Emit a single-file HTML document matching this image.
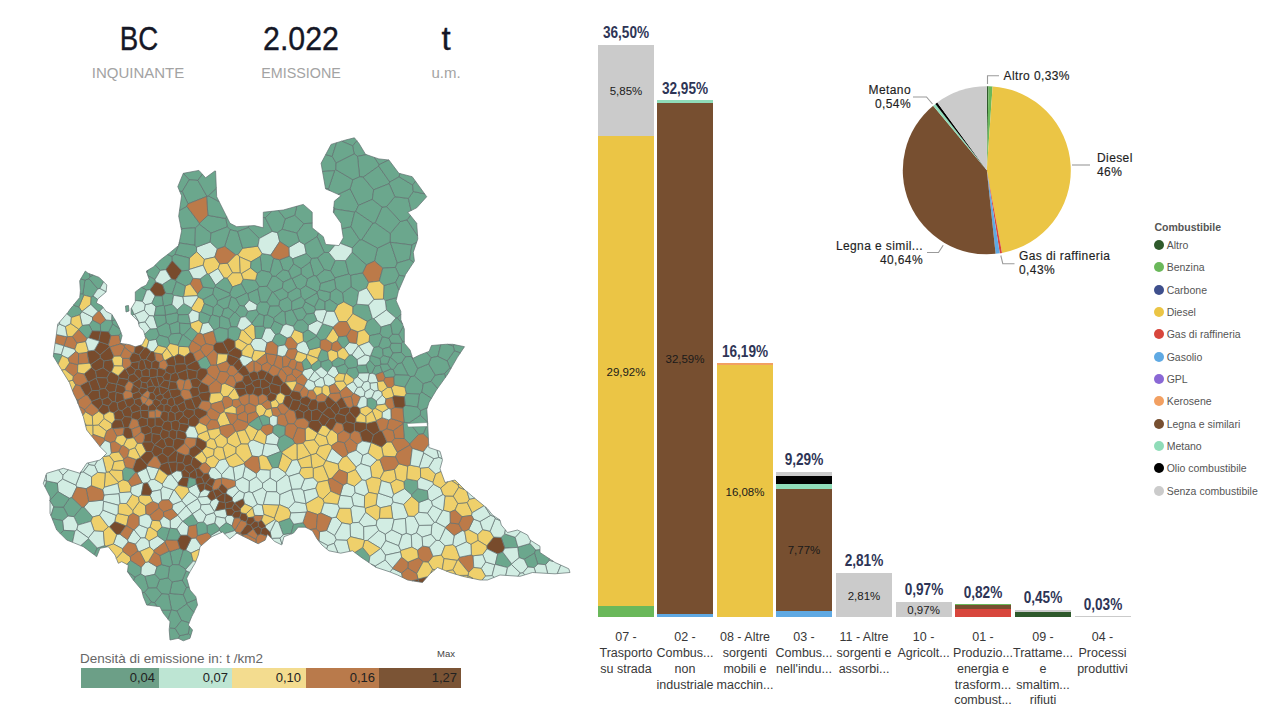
<!DOCTYPE html>
<html><head><meta charset="utf-8">
<style>
html,body{margin:0;padding:0;background:#fff;width:1280px;height:720px;overflow:hidden;font-family:"Liberation Sans",sans-serif;}
.abs{position:absolute;}
.kv{position:absolute;top:22px;width:160px;text-align:center;font-size:33px;color:#151726;line-height:34px;-webkit-text-stroke:0.35px #151726;}
.kl{position:absolute;top:64px;width:160px;text-align:center;font-size:15px;color:#a3a3a3;line-height:18px;}
.bar{position:absolute;width:56px;}
.tot{position:absolute;width:80px;text-align:center;font-size:16px;font-weight:bold;color:#2e3556;line-height:16px;transform:scaleX(0.85);}
.inl{position:absolute;width:56px;text-align:center;font-size:11.5px;color:#1a1a1a;line-height:14px;}
.xl{position:absolute;width:76px;text-align:center;font-size:12.5px;color:#383838;line-height:15.8px;top:630.2px;}
.lg{position:absolute;left:1154.3px;font-size:10.5px;color:#555;line-height:14px;}
.lg i{position:absolute;left:0;top:2px;width:10px;height:10px;border-radius:50%;}
.lg span{position:absolute;left:12.4px;top:0;white-space:nowrap;}
.pl{position:absolute;font-size:12px;color:#1e1e1e;line-height:14px;font-weight:normal;white-space:nowrap;letter-spacing:0.4px;-webkit-text-stroke:0.15px #1e1e1e;}
</style></head><body>
<!-- KPIs -->
<div class="kv" style="left:58.5px;transform:scaleX(0.84)">BC</div>
<div class="kv" style="left:221px;transform:scaleX(0.92)">2.022</div>
<div class="kv" style="left:366px">t</div>
<div class="kl" style="left:58px">INQUINANTE</div>
<div class="kl" style="left:220.5px;transform:scaleX(0.955)">EMISSIONE</div>
<div class="kl" style="left:366px">u.m.</div>

<!-- MAP -->
<svg class="abs" style="left:0;top:0" width="600" height="650" viewBox="0 0 600 650" id="map">
<style>#map polygon{stroke:#617070;stroke-width:0.7;stroke-linejoin:round}#map .G{fill:#6ba78d}#map .L{fill:#d2ede3}#map .Y{fill:#efd06b}#map .O{fill:#bc7a49}#map .B{fill:#784b2c}</style>
<polygon class="O" points="288.2,423.8 284.8,414.2 281.0,413.9 277.4,416.4 277.1,424.5 285.2,426.5"/>
<polygon class="Y" points="314.3,439.9 317.7,433.4 317.6,432.8 308.1,426.7 305.1,429.0 305.3,440.9"/>
<polygon class="B" points="132.4,397.5 134.3,399.7 140.4,398.0 142.1,395.6 142.1,395.4 139.0,391.4 132.5,393.8"/>
<polygon class="L" points="367.4,540.4 380.7,548.5 380.9,548.5 385.8,540.7 385.3,534.1 378.7,530.4"/>
<polygon class="G" points="97.8,288.8 89.0,278.6 84.9,280.1 82.8,294.1 83.8,295.1 91.2,297.0 93.0,296.1"/>
<polygon class="G" points="94.4,554.6 97.3,548.0 88.5,538.7 80.7,545.6 83.3,546.7 93.8,554.5"/>
<polygon class="Y" points="387.0,441.9 381.6,447.1 383.3,456.2 395.4,456.9 397.4,452.4 391.5,441.9"/>
<polygon class="G" points="334.6,170.6 335.8,169.6 336.1,162.9 332.2,156.4 325.7,154.6 321.1,163.3 322.5,171.5"/>
<polygon class="Y" points="310.7,455.2 311.9,467.1 313.3,468.4 323.3,465.5 325.8,460.6 325.8,460.6 316.1,453.3 310.8,454.9"/>
<polygon class="Y" points="299.1,473.2 304.5,479.0 313.4,477.8 313.3,468.4 311.9,467.1 301.2,467.8"/>
<polygon class="G" points="288.6,271.0 282.9,269.6 275.5,276.1 283.3,282.2 291.5,278.3"/>
<polygon class="L" points="196.6,251.7 204.3,259.4 214.8,257.0 217.4,248.8 210.2,242.0 196.5,247.1"/>
<polygon class="G" points="202.4,174.2 198.9,170.4 183.4,173.3 189.2,179.9 197.9,180.4"/>
<polygon class="G" points="453.3,346.1 454.3,344.6 452.7,344.3 447.7,344.3"/>
<polygon class="L" points="547.6,573.4 555.0,573.8 557.4,573.6 560.8,565.1 555.0,562.5 553.4,561.4 549.2,560.3 545.5,564.7"/>
<polygon class="Y" points="90.8,304.4 91.2,297.0 83.8,295.1 78.8,307.0 81.8,311.5 81.9,311.5"/>
<polygon class="G" points="331.6,362.0 332.5,365.9 336.1,367.3 344.9,364.0 344.9,360.1 338.2,357.3"/>
<polygon class="Y" points="139.3,501.5 132.7,510.6 132.9,513.0 139.2,516.5 146.0,514.1 145.5,505.5"/>
<polygon class="Y" points="109.4,455.6 103.5,456.5 102.6,457.4 106.3,472.4 109.0,472.0 111.8,469.8 114.1,461.7"/>
<polygon class="B" points="108.4,344.7 99.2,341.7 94.3,350.2 100.0,355.1 109.7,346.8"/>
<polygon class="G" points="146.9,272.6 147.9,275.7 155.0,279.6 160.3,270.4 155.3,265.0 153.3,266.9 147.7,270.3"/>
<polygon class="G" points="156.2,339.4 159.3,335.2 156.9,328.5 150.1,328.9 144.6,334.3 145.3,336.6 148.7,340.8"/>
<polygon class="Y" points="93.1,434.4 93.0,425.4 92.8,425.2 86.6,425.2 85.7,426.1 86.7,430.0 91.6,436.1"/>
<polygon class="B" points="166.4,446.3 172.9,447.1 174.0,439.9 168.9,436.7 163.8,439.3"/>
<polygon class="B" points="232.9,365.5 238.1,371.3 243.0,365.7 239.3,358.7 239.2,358.7"/>
<polygon class="G" points="524.2,559.4 534.5,553.1 535.7,550.0 530.1,543.5 517.9,547.1 517.7,547.4 519.0,557.6"/>
<polygon class="G" points="180.8,226.6 181.5,230.2 182.2,228.6"/>
<polygon class="L" points="162.9,486.4 160.6,489.8 161.7,500.1 168.9,499.8 173.7,490.0"/>
<polygon class="G" points="183.3,550.3 179.9,548.4 169.9,551.6 172.5,564.6 179.0,564.8"/>
<polygon class="G" points="368.7,282.4 362.6,272.8 350.6,275.1 351.0,286.9 358.7,291.6 366.6,288.0"/>
<polygon class="Y" points="138.5,497.0 132.1,494.3 126.4,503.5 132.7,510.6 139.3,501.5"/>
<polygon class="L" points="139.4,322.8 134.7,314.3 134.0,314.1 132.2,315.3 138.1,321.1 138.8,324.1"/>
<polygon class="G" points="358.5,205.4 350.1,188.7 338.0,194.3 341.1,195.6 334.4,201.1 333.8,207.3 334.8,209.0 354.7,212.1 355.7,211.5"/>
<polygon class="G" points="418.7,434.4 409.3,422.7 404.0,422.3 403.7,422.5 403.2,423.6 404.2,438.5 409.7,444.0"/>
<polygon class="L" points="294.9,501.7 288.4,508.4 290.8,513.0 306.2,512.2 307.4,511.1 305.9,503.7"/>
<polygon class="O" points="85.5,411.8 85.0,409.7 79.1,406.1 82.9,415.6"/>
<polygon class="L" points="431.5,501.2 443.0,494.5 440.7,488.1 433.4,484.2 427.4,490.7 428.1,499.0"/>
<polygon class="O" points="221.5,483.6 227.8,489.5 235.6,485.9 235.5,480.9 234.9,480.4 221.8,477.5 221.2,478.3"/>
<polygon class="L" points="517.9,576.2 520.0,576.3 524.7,574.9 523.1,572.7 520.1,572.9"/>
<polygon class="O" points="260.7,533.8 257.5,535.4 255.9,539.1 256.1,542.8 258.1,543.8 265.1,540.2 266.8,536.1"/>
<polygon class="G" points="380.1,333.5 381.2,327.0 373.9,318.6 372.4,318.4 367.2,321.4 364.4,329.7 369.6,335.7"/>
<polygon class="O" points="349.7,438.2 344.3,442.8 347.9,453.5 356.2,450.3 357.5,444.3"/>
<polygon class="G" points="428.4,438.6 427.7,423.7 423.2,433.9"/>
<polygon class="G" points="73.9,516.6 77.9,525.1 90.9,521.3 92.7,517.0 84.0,507.1 81.7,507.2"/>
<polygon class="L" points="304.6,244.5 299.3,241.4 288.8,247.4 289.2,256.2 292.7,258.8 306.3,253.6"/>
<polygon class="G" points="419.6,394.1 421.9,392.2 423.3,383.7 414.4,375.9 410.6,376.6 404.8,387.0 406.2,393.5"/>
<polygon class="B" points="196.1,484.2 196.9,484.6 204.2,482.9 201.5,477.0 197.2,477.1 195.5,478.9"/>
<polygon class="L" points="208.2,473.2 210.3,477.9 215.1,479.6 221.2,478.3 221.8,477.5 221.6,474.5 214.9,467.4 210.9,467.8"/>
<polygon class="B" points="146.0,359.3 151.1,351.5 146.8,347.4 144.5,347.8 139.1,354.7 141.3,359.6 143.6,360.1"/>
<polygon class="G" points="351.0,286.9 342.5,292.9 343.6,301.8 353.0,306.9 356.7,304.2 358.7,291.6"/>
<polygon class="B" points="105.0,388.3 109.1,392.4 115.5,391.6 116.7,384.2 108.2,382.4"/>
<polygon class="L" points="485.6,562.0 481.2,568.4 485.6,576.1 492.1,575.6 494.9,564.7"/>
<polygon class="G" points="182.2,228.6 195.4,227.8 199.4,224.3 199.5,223.2 186.8,206.3 179.5,210.4 178.7,216.2 180.8,226.6"/>
<polygon class="L" points="153.7,351.8 158.1,345.5 156.2,339.4 148.7,340.8 146.8,347.4 151.1,351.5"/>
<polygon class="L" points="377.3,382.4 369.9,383.0 370.3,388.6 374.6,391.3 378.4,390.4"/>
<polygon class="O" points="211.0,537.1 210.8,535.4 207.4,532.6 197.4,535.6 195.6,538.0 201.1,545.8 210.8,537.4"/>
<polygon class="G" points="380.1,358.5 370.7,355.4 369.9,356.0 369.6,360.3 375.1,366.2 380.2,365.3 380.9,364.0"/>
<polygon class="Y" points="380.1,478.6 384.0,471.1 379.9,459.7 376.9,460.0 370.2,466.6 371.7,477.1"/>
<polygon class="G" points="407.0,219.8 400.3,221.5 390.3,233.4 390.1,242.0 390.4,242.3 411.9,245.0 416.7,242.2 417.8,238.9 417.6,235.9"/>
<polygon class="G" points="296.8,233.1 303.9,223.7 294.7,215.2 285.2,218.8 282.1,229.3"/>
<polygon class="G" points="407.0,219.8 417.6,235.9 416.7,223.3 410.4,215.4"/>
<polygon class="G" points="192.0,309.9 191.4,307.8 183.9,303.4 177.2,309.8 177.0,312.7 178.4,314.9 188.5,314.5"/>
<polygon class="G" points="404.4,396.8 405.1,405.4 417.8,407.1 419.6,394.1 406.2,393.5"/>
<polygon class="L" points="365.6,512.2 358.8,522.4 363.6,526.7 376.2,525.3 376.9,520.7"/>
<polygon class="O" points="255.9,539.1 247.0,534.4 242.5,534.9 242.7,536.1 248.6,539.0 256.1,542.8"/>
<polygon class="B" points="114.0,365.9 112.1,359.6 103.9,360.9 103.1,367.8 109.8,372.5 111.6,371.8"/>
<polygon class="O" points="247.5,422.4 237.4,418.9 232.5,424.6 235.5,431.3 236.5,431.7 245.0,429.8 248.6,424.9 248.5,423.9"/>
<polygon class="G" points="517.7,547.4 517.9,547.1 515.2,537.3 504.7,533.9 501.1,537.4 504.8,548.2"/>
<polygon class="O" points="433.1,556.4 429.4,547.1 422.7,546.0 417.4,550.1 418.4,557.8 423.2,561.8 428.2,562.2"/>
<polygon class="L" points="378.6,493.2 377.3,494.1 376.1,504.8 380.3,507.8 391.0,505.5 393.2,502.1 392.1,497.7"/>
<polygon class="G" points="148.3,587.8 144.4,592.4 151.5,602.2 154.6,602.6 161.8,593.9 156.6,587.7"/>
<polygon class="L" points="336.3,539.7 334.7,535.5 326.6,530.5 319.6,531.7 318.9,540.8 327.9,545.6 334.1,543.3"/>
<polygon class="O" points="87.2,352.3 78.6,353.4 78.3,364.2 89.2,363.2"/>
<polygon class="L" points="326.6,530.5 334.7,535.5 342.0,522.9 336.1,517.1 331.7,517.9"/>
<polygon class="L" points="210.8,535.4 211.0,537.1 211.1,537.2 211.7,536.7 221.7,532.4 219.3,530.3"/>
<polygon class="Y" points="322.9,499.1 318.4,496.4 306.1,503.3 305.9,503.7 307.4,511.1 317.6,514.5 320.9,513.0 324.2,502.7"/>
<polygon class="B" points="152.8,400.8 152.8,403.6 156.4,407.6 161.0,403.7 160.5,401.3 155.5,398.8"/>
<polygon class="L" points="186.2,505.9 192.4,513.9 200.4,508.7 201.0,504.8 197.7,498.6 186.2,505.9"/>
<polygon class="L" points="385.1,404.1 386.0,399.0 382.2,395.2 376.3,400.9 376.9,405.2"/>
<polygon class="L" points="214.0,330.1 208.6,322.4 202.5,323.4 199.7,333.0 202.9,334.5 213.6,330.9"/>
<polygon class="L" points="145.0,576.4 154.8,574.4 157.0,566.8 148.3,561.7 145.5,562.4 141.2,567.2 140.7,573.9"/>
<polygon class="G" points="352.2,247.9 359.8,239.9 351.0,226.6 341.9,228.7 343.3,237.8 340.2,243.3"/>
<polygon class="Y" points="328.3,396.6 330.4,393.5 329.0,386.2 324.8,384.8 321.9,387.3 321.9,393.0 327.5,396.8"/>
<polygon class="G" points="352.6,145.8 354.1,153.8 357.5,156.4 366.3,154.6 365.6,154.4 358.9,143.3 356.8,140.7"/>
<polygon class="Y" points="346.6,385.3 343.6,380.9 335.4,381.3 334.6,383.6 340.1,391.5 346.3,386.6"/>
<polygon class="O" points="319.8,347.2 321.3,349.5 327.6,351.9 331.2,349.7 332.4,343.2 325.9,338.9 320.3,340.2"/>
<polygon class="B" points="185.0,380.7 188.2,379.0 186.7,369.6 177.2,373.3 179.2,378.9"/>
<polygon class="B" points="109.7,346.8 100.0,355.1 100.3,358.0 103.9,360.9 112.1,359.6 114.0,356.3 109.9,347.0"/>
<polygon class="G" points="301.4,296.8 300.3,289.3 296.6,287.9 287.9,292.8 287.6,297.1 291.7,301.7"/>
<polygon class="Y" points="137.3,443.3 135.0,447.7 140.2,457.5 146.2,451.5 142.0,443.2"/>
<polygon class="Y" points="235.9,453.1 236.2,447.4 227.4,443.0 222.8,447.5 225.5,458.7"/>
<polygon class="L" points="103.6,501.3 103.0,500.1 88.7,501.6 84.0,507.1 92.7,517.0 99.6,515.2 103.0,510.1"/>
<polygon class="B" points="109.1,392.4 105.0,388.3 100.4,389.0 98.9,390.4 100.0,398.2 102.0,399.7 108.0,397.3"/>
<polygon class="G" points="317.6,358.3 318.2,360.2 321.0,362.2 328.7,359.7 327.6,351.9 321.3,349.5"/>
<polygon class="Y" points="241.8,351.0 247.8,344.5 238.5,339.0 234.8,341.0 235.0,347.4"/>
<polygon class="G" points="334.8,209.0 333.8,207.3 333.3,212.2 333.7,212.8"/>
<polygon class="B" points="151.6,451.5 146.2,451.5 140.2,457.5 140.2,457.5 147.1,464.9 154.3,456.1"/>
<polygon class="L" points="441.4,555.1 445.0,545.7 439.6,540.6 436.1,540.2 429.4,547.1 433.1,556.4"/>
<polygon class="O" points="161.7,500.1 158.3,503.7 158.9,507.8 163.5,512.0 172.2,508.9 173.0,504.5 168.9,499.8"/>
<polygon class="G" points="183.4,173.3 183.3,173.3 177.8,186.7 179.7,191.2 182.2,191.5 189.2,179.9"/>
<polygon class="L" points="249.3,481.0 248.9,491.7 252.2,492.7 262.5,487.8 262.6,483.2 256.4,476.7"/>
<polygon class="O" points="316.3,528.8 317.6,514.5 307.4,511.1 306.2,512.2 302.8,522.7 306.3,527.7 310.1,529.6"/>
<polygon class="L" points="315.7,488.3 317.9,482.3 313.4,477.8 304.5,479.0 300.8,488.7 303.7,490.9"/>
<polygon class="O" points="336.3,402.3 341.4,397.5 339.8,392.6 330.4,393.5 328.3,396.6 335.6,402.4"/>
<polygon class="G" points="293.7,524.2 289.8,518.1 278.6,522.1 283.2,534.7 291.1,533.4"/>
<polygon class="O" points="206.7,369.3 207.7,373.8 215.6,380.0 216.4,380.0 220.1,371.3 216.7,365.0 216.4,364.8 210.9,365.2"/>
<polygon class="Y" points="309.5,349.8 307.4,354.6 317.6,358.3 321.3,349.5 319.8,347.2"/>
<polygon class="O" points="418.4,557.8 408.0,562.1 407.8,568.2 416.7,573.7 423.2,561.8"/>
<polygon class="B" points="138.6,369.0 139.2,361.6 131.4,362.6 130.4,365.7 135.5,370.0"/>
<polygon class="G" points="382.5,336.7 380.1,333.5 369.6,335.7 369.0,341.8 373.8,347.6 378.7,346.6"/>
<polygon class="L" points="360.6,397.0 364.3,396.2 365.1,391.7 361.3,386.8 357.4,387.4 353.9,393.3"/>
<polygon class="G" points="168.6,594.4 171.5,610.0 176.9,611.0 186.6,604.0 186.9,603.0 183.4,594.7 169.7,593.4"/>
<polygon class="L" points="435.8,522.1 434.2,522.4 431.8,525.0 431.1,534.4 436.1,540.2 439.6,540.6 445.5,527.9 445.4,527.3"/>
<polygon class="L" points="414.3,516.3 408.2,516.1 405.4,518.4 406.2,533.3 411.3,535.0 416.5,532.9 419.1,525.4"/>
<polygon class="G" points="171.2,610.2 161.7,610.2 163.3,613.3 168.1,619.3"/>
<polygon class="G" points="385.3,300.6 386.4,309.9 396.0,318.1 397.3,318.0 400.8,314.4 400.8,311.3 396.1,300.7 396.9,297.5"/>
<polygon class="O" points="403.7,422.5 391.1,418.5 388.8,419.9 386.6,428.8 393.2,430.8 403.2,423.6"/>
<polygon class="G" points="325.9,338.9 333.2,327.9 333.1,327.0 322.7,323.7 316.4,335.3 316.7,336.5 320.3,340.2"/>
<polygon class="G" points="179.9,333.1 171.2,333.8 168.1,337.6 169.7,343.5 178.0,345.4 182.4,335.0"/>
<polygon class="B" points="124.6,368.7 118.2,375.7 119.1,378.1 128.0,379.5 129.2,375.5 125.5,368.9"/>
<polygon class="O" points="132.9,383.1 128.6,380.9 124.6,386.8 125.5,390.5 130.8,391.5 133.4,384.9"/>
<polygon class="G" points="357.5,156.4 359.6,176.7 363.2,177.2 378.7,166.1 379.1,164.6 374.4,157.4 366.3,154.6"/>
<polygon class="Y" points="328.5,444.2 326.4,436.8 317.7,433.4 314.3,439.9 319.4,446.4"/>
<polygon class="Y" points="232.4,286.9 241.3,283.8 243.3,279.2 241.3,273.5 240.3,272.7 232.4,272.7 227.1,278.2"/>
<polygon class="Y" points="114.7,521.6 126.0,526.0 126.7,525.8 128.8,515.8 118.0,513.5 116.1,515.3"/>
<polygon class="B" points="270.5,384.0 271.6,383.5 273.5,376.4 268.2,372.1 267.4,372.3 264.0,379.1"/>
<polygon class="G" points="435.3,375.0 428.6,363.9 417.7,368.4 414.4,375.9 423.3,383.7 431.0,381.4"/>
<polygon class="G" points="372.3,199.4 373.7,189.8 363.2,177.2 359.6,176.7 352.8,179.7 350.1,188.7 358.5,205.4"/>
<polygon class="G" points="328.5,188.6 325.5,188.4 325.6,188.9 330.1,190.8"/>
<polygon class="L" points="272.5,467.8 270.1,470.3 270.0,478.0 276.6,481.9 286.4,474.7 285.6,472.7 278.1,467.4"/>
<polygon class="L" points="349.2,342.5 344.3,347.9 349.2,355.1 351.9,355.0 358.5,345.8 356.6,343.5"/>
<polygon class="L" points="347.9,453.5 346.6,455.8 356.1,467.0 360.9,463.7 362.8,455.1 356.2,450.3"/>
<polygon class="G" points="179.7,635.7 175.2,628.5 169.7,627.9 169.3,628.4 169.2,630.0 170.0,640.0 178.3,638.3 178.6,638.5"/>
<polygon class="Y" points="190.3,352.3 188.8,346.8 178.7,346.3 178.4,354.0 184.5,356.8"/>
<polygon class="L" points="86.1,488.7 91.5,485.6 91.6,476.7 83.3,471.9 80.9,472.0 75.8,485.1 76.8,487.1"/>
<polygon class="L" points="331.8,448.2 325.8,460.6 325.8,460.6 338.2,464.1 342.7,457.3"/>
<polygon class="O" points="233.3,376.0 236.2,382.7 242.5,380.8 243.7,376.3 238.1,372.1"/>
<polygon class="L" points="156.1,306.9 151.9,303.2 145.1,304.7 144.3,310.1 149.1,315.7 153.7,316.0 154.5,315.3"/>
<polygon class="Y" points="432.5,569.3 434.9,569.7 437.5,567.5 442.3,569.4 444.0,558.6 441.4,555.1 433.1,556.4 428.2,562.2"/>
<polygon class="G" points="261.6,270.4 270.1,272.4 273.7,258.3 270.8,255.0 262.0,253.5 260.2,256.4"/>
<polygon class="O" points="207.0,411.5 206.8,414.7 210.6,419.5 217.2,420.3 220.4,413.6 210.7,407.7"/>
<polygon class="G" points="267.4,314.7 264.1,315.6 263.2,326.2 265.3,328.2 270.6,328.2 274.3,321.0 273.6,318.0"/>
<polygon class="L" points="146.2,468.1 150.5,479.8 154.6,479.3 159.0,468.8 158.9,468.6 147.3,466.0"/>
<polygon class="B" points="234.6,503.2 234.5,502.7 232.4,500.7 225.2,502.9 225.7,508.7 231.9,508.2"/>
<polygon class="G" points="427.7,423.7 427.6,422.0 420.4,415.1 409.3,422.7 418.7,434.4 423.2,433.9"/>
<polygon class="O" points="213.6,330.9 202.9,334.5 205.7,343.7 213.6,345.5 216.6,342.2"/>
<polygon class="G" points="177.0,312.7 165.4,315.0 165.3,315.1 166.2,323.0 169.4,324.7 178.0,321.5 178.4,314.9"/>
<polygon class="G" points="237.1,326.8 240.6,317.4 235.4,312.4 234.2,312.4 228.9,318.8 230.9,326.9"/>
<polygon class="Y" points="254.8,326.4 251.8,323.9 243.3,330.1 252.6,340.0 255.5,338.4"/>
<polygon class="B" points="139.2,426.3 140.6,427.3 147.5,425.5 147.3,418.8 141.3,417.2 137.7,420.2"/>
<polygon class="O" points="128.8,515.8 126.7,525.8 133.2,529.9 134.2,529.9 139.3,525.0 139.2,516.5 132.9,513.0"/>
<polygon class="B" points="336.5,422.4 334.4,418.1 329.8,418.6 324.9,425.5 330.5,430.2 332.3,429.9"/>
<polygon class="G" points="382.8,268.2 395.4,267.4 397.3,263.0 390.4,242.3 390.1,242.0 377.5,248.1 374.5,261.0"/>
<polygon class="Y" points="159.9,520.8 152.1,520.3 150.0,527.1 157.1,531.8 162.0,526.9"/>
<polygon class="L" points="247.8,311.4 256.6,309.9 257.3,304.8 249.2,300.1 244.2,305.9"/>
<polygon class="B" points="297.9,409.6 303.8,412.6 308.9,409.3 307.8,406.2 300.7,403.2"/>
<polygon class="B" points="502.7,552.0 504.8,548.2 501.1,537.4 493.7,537.1 486.7,545.8 486.9,548.8 497.7,554.1"/>
<polygon class="G" points="265.3,217.9 271.8,211.3 263.3,212.2 263.3,217.5"/>
<polygon class="G" points="249.0,225.9 236.7,226.7 230.0,223.3 226.6,216.5 225.7,218.5 227.3,226.8 230.0,229.7 237.7,231.5 248.3,227.6"/>
<polygon class="G" points="188.3,633.8 190.7,635.9 192.5,630.0 189.4,626.3"/>
<polygon class="L" points="94.6,465.4 97.6,472.4 105.2,473.2 106.3,472.4 102.6,457.4 100.0,460.0 97.3,460.7"/>
<polygon class="O" points="69.6,362.6 64.9,369.5 73.4,376.5 77.5,372.8 77.8,364.7"/>
<polygon class="G" points="183.4,594.7 186.5,587.5 182.3,580.1 172.1,581.9 169.7,593.4"/>
<polygon class="O" points="327.5,396.8 321.9,393.0 316.7,395.8 315.6,399.5 317.9,402.2 324.7,401.6"/>
<polygon class="G" points="188.3,633.8 179.7,635.7 178.6,638.5 183.3,640.8 190.0,638.3 190.7,635.9"/>
<polygon class="O" points="235.6,534.1 236.8,533.1 242.7,536.1 242.5,534.9 240.3,533.1 236.5,532.2"/>
<polygon class="O" points="412.3,448.4 423.3,451.9 428.7,444.6 428.4,438.6 423.2,433.9 418.7,434.4 409.7,444.0 409.7,445.1"/>
<polygon class="Y" points="219.8,263.8 214.8,257.0 204.3,259.4 203.1,265.2 207.0,273.7 208.7,274.2 218.2,268.5"/>
<polygon class="B" points="182.9,412.2 186.5,408.7 184.3,401.5 177.1,405.4 179.5,411.1"/>
<polygon class="B" points="120.0,534.2 126.0,526.0 114.7,521.6 109.3,526.8 116.6,534.7"/>
<polygon class="G" points="84.9,280.1 89.0,278.6 90.1,276.5 89.3,273.7 88.0,273.2 85.3,271.1 80.7,279.1"/>
<polygon class="O" points="295.1,368.6 292.8,369.6 291.7,373.8 296.4,378.4 302.4,373.8 302.4,372.1"/>
<polygon class="G" points="453.3,346.1 454.3,350.8 460.3,352.9 464.5,346.7 454.3,344.6"/>
<polygon class="B" points="327.7,407.8 330.2,407.9 335.6,402.4 328.3,396.6 327.5,396.8 324.7,401.6"/>
<polygon class="Y" points="130.6,560.4 130.3,556.9 122.8,551.3 116.3,558.3 118.3,563.3 121.7,561.7 127.0,564.4"/>
<polygon class="G" points="203.0,299.6 212.9,294.3 213.8,288.3 203.0,287.1 197.4,293.9 197.3,295.7 198.1,297.1"/>
<polygon class="L" points="291.6,489.5 279.8,494.5 279.4,504.6 288.4,508.4 294.9,501.7"/>
<polygon class="B" points="100.6,331.0 92.1,330.7 88.5,337.8 98.8,341.0 100.8,331.3"/>
<polygon class="O" points="244.8,405.4 241.4,404.3 236.1,407.9 236.3,413.9 237.3,415.2 244.8,411.5"/>
<polygon class="Y" points="199.2,312.7 201.2,311.7 204.4,303.7 203.0,299.6 198.1,297.1 191.4,307.8 192.0,309.9"/>
<polygon class="L" points="256.5,473.6 245.2,466.1 242.6,477.4 249.3,481.0 256.4,476.7"/>
<polygon class="L" points="393.5,494.5 392.1,497.7 393.2,502.1 403.7,504.5 411.8,496.3 411.7,494.8 404.5,488.6"/>
<polygon class="Y" points="452.7,544.6 445.0,545.7 441.4,555.1 444.0,558.6 457.2,560.4 458.3,559.8 459.6,557.2 455.8,546.8"/>
<polygon class="L" points="219.3,460.2 214.9,467.4 221.6,474.5 229.5,466.1 225.5,458.7"/>
<polygon class="G" points="92.1,330.7 100.6,331.0 100.4,324.2 92.6,320.1 89.1,324.8"/>
<polygon class="O" points="318.9,540.8 319.6,531.7 316.3,528.8 310.1,529.6 312.4,530.8 317.1,539.0 318.7,541.0"/>
<polygon class="Y" points="221.5,384.3 220.4,392.8 223.4,396.8 228.0,396.3 234.4,388.3 234.2,387.7 224.8,383.3"/>
<polygon class="L" points="118.3,505.2 120.2,503.4 119.1,493.6 104.1,494.9 103.0,500.1 103.6,501.3"/>
<polygon class="G" points="377.5,248.1 390.1,242.0 390.3,233.4 375.2,222.7 372.8,223.1 361.7,239.7"/>
<polygon class="L" points="346.9,483.2 343.1,485.0 340.1,495.3 340.1,495.3 351.6,496.8 355.1,492.6 354.5,486.3"/>
<polygon class="O" points="229.8,365.3 226.7,371.8 229.6,375.7 233.3,376.0 238.1,372.1 238.1,371.3 232.9,365.5"/>
<polygon class="G" points="345.5,260.6 335.2,260.4 330.5,270.8 334.9,277.9 348.8,274.0"/>
<polygon class="G" points="106.3,546.1 104.6,545.6 97.3,548.0 94.4,554.6 94.5,555.1 96.7,556.7 100.0,548.3 106.7,547.0"/>
<polygon class="B" points="167.9,420.8 164.4,421.7 161.7,426.7 162.5,429.2 169.1,431.6 172.1,429.5 171.0,422.0"/>
<polygon class="G" points="385.3,300.6 396.9,297.5 398.4,291.2 398.9,290.0 395.7,282.2 383.9,285.5 383.4,299.0"/>
<polygon class="L" points="391.0,505.5 392.7,518.3 394.1,519.7 405.4,518.4 408.2,516.1 403.7,504.5 393.2,502.1"/>
<polygon class="Y" points="247.9,444.1 250.4,440.9 245.0,429.8 236.5,431.7 241.0,444.0"/>
<polygon class="B" points="149.5,376.6 149.3,369.4 146.2,368.4 141.5,370.7 142.0,376.3"/>
<polygon class="G" points="112.6,323.9 108.6,331.9 110.8,335.7 119.2,335.3 121.0,332.8 119.5,328.6"/>
<polygon class="G" points="316.5,276.2 324.4,269.9 317.6,257.6 311.4,258.4 310.0,262.2 313.8,275.5"/>
<polygon class="G" points="379.1,164.6 388.8,160.0 378.9,158.9 374.4,157.4"/>
<polygon class="G" points="400.3,221.5 407.0,219.8 410.4,215.4 407.8,212.2 411.1,210.6 408.4,198.4 394.8,196.7 386.5,206.6"/>
<polygon class="O" points="288.2,349.3 296.0,348.6 297.6,344.0 290.8,336.6 286.9,338.0 284.7,344.7"/>
<polygon class="Y" points="368.7,492.4 377.3,494.1 378.6,493.2 381.4,480.7 380.1,478.6 371.7,477.1 365.6,480.3"/>
<polygon class="L" points="450.3,523.0 450.2,512.0 443.4,510.1 442.5,510.5 435.8,522.1 445.4,527.3"/>
<polygon class="Y" points="252.8,360.6 253.8,361.3 256.1,361.3 265.9,353.4 265.9,353.3 265.1,351.4 254.1,350.2 251.6,358.1"/>
<polygon class="G" points="302.8,332.8 303.4,341.3 306.3,342.5 316.7,336.5 316.4,335.3 308.0,329.6"/>
<polygon class="L" points="57.4,483.1 58.0,491.7 69.3,498.3 71.8,497.6 76.8,487.1 75.8,485.1 62.6,478.9"/>
<polygon class="L" points="401.7,573.0 392.6,568.6 390.0,571.9 390.0,572.0 390.3,572.1 397.5,575.0 402.4,577.4"/>
<polygon class="O" points="163.5,512.0 158.9,507.8 149.5,515.4 152.1,520.3 159.9,520.8 163.8,516.2"/>
<polygon class="B" points="102.7,404.1 98.4,409.7 98.6,411.3 103.7,414.9 109.5,411.6 108.5,406.0"/>
<polygon class="G" points="172.3,293.9 176.4,281.7 175.7,280.1 171.2,278.8 162.3,284.5 165.5,293.3"/>
<polygon class="G" points="259.0,313.8 256.6,309.9 247.8,311.4 245.3,316.6 251.8,323.4"/>
<polygon class="B" points="209.2,391.8 208.8,385.8 201.4,382.1 198.1,387.7 199.6,393.2"/>
<polygon class="G" points="186.9,603.0 186.6,604.0 193.8,612.5 195.0,610.0 197.5,605.0 196.3,599.2"/>
<polygon class="G" points="144.4,592.4 148.3,587.8 145.0,576.4 140.7,573.9 135.0,577.0 133.5,580.3 141.7,590.0 142.3,592.7"/>
<polygon class="G" points="413.3,191.5 408.4,198.4 411.1,210.6 416.7,207.8 426.7,196.7 424.6,193.8"/>
<polygon class="B" points="162.3,284.5 155.6,281.7 149.8,289.7 155.1,296.1 162.2,296.3 165.5,293.3"/>
<polygon class="L" points="402.2,534.8 391.8,529.8 385.3,534.1 385.8,540.7 398.7,545.8"/>
<polygon class="L" points="245.2,466.1 244.2,463.5 233.0,467.3 234.9,480.4 235.5,480.9 242.6,477.4"/>
<polygon class="B" points="185.3,466.1 190.9,464.3 192.8,457.4 189.0,454.3 185.0,455.2 182.6,462.8"/>
<polygon class="Y" points="277.4,407.4 279.3,404.0 275.7,399.3 270.4,401.7 271.4,408.0"/>
<polygon class="O" points="179.9,548.4 177.5,540.2 166.6,539.8 164.9,541.0 164.8,541.9 169.0,551.1 169.9,551.6"/>
<polygon class="B" points="194.2,410.1 186.5,408.7 182.9,412.2 183.4,415.2 188.6,419.1 194.4,414.5"/>
<polygon class="G" points="366.3,264.9 374.5,261.0 377.5,248.1 361.7,239.7 359.8,239.9 352.2,247.9 352.1,252.2"/>
<polygon class="L" points="278.6,522.1 275.7,520.5 270.1,531.9 271.3,537.8 271.7,538.4 280.1,538.2 283.2,534.7"/>
<polygon class="L" points="454.2,535.5 452.7,544.6 455.8,546.8 466.5,541.9 464.7,531.3 462.3,530.5"/>
<polygon class="B" points="169.9,381.6 169.6,381.1 164.3,379.9 159.3,386.2 168.4,388.9"/>
<polygon class="B" points="161.7,426.7 155.1,425.7 151.1,428.2 151.2,432.5 152.2,433.7 160.0,434.6 162.5,429.2"/>
<polygon class="L" points="351.6,496.8 353.4,505.7 364.4,507.3 364.6,495.8 355.1,492.6"/>
<polygon class="O" points="277.2,355.1 265.9,353.3 265.9,353.4 267.2,362.1 271.7,365.7 273.8,365.3"/>
<polygon class="B" points="338.0,413.6 345.6,415.9 349.5,411.7 350.0,408.0 347.1,406.8 340.1,408.7"/>
<polygon class="G" points="376.9,405.2 376.3,400.9 371.8,397.6 367.0,398.5 366.9,406.0 372.6,409.8 375.3,408.2"/>
<polygon class="B" points="186.8,437.4 185.6,432.4 178.5,430.1 176.8,431.0 176.5,438.2 184.7,440.0"/>
<polygon class="Y" points="118.5,482.1 117.8,483.5 119.8,492.7 130.6,492.0 131.3,486.5 128.1,481.2 123.0,479.7"/>
<polygon class="Y" points="493.7,537.1 490.1,531.2 482.7,529.6 477.6,534.5 477.9,540.4 486.7,545.8"/>
<polygon class="O" points="77.0,343.0 72.5,336.4 67.2,336.6 67.0,336.8 63.9,345.8 64.0,346.0 74.8,349.4"/>
<polygon class="G" points="230.0,229.7 224.6,246.3 235.6,254.8 238.0,254.7 242.7,248.2 237.7,231.5"/>
<polygon class="Y" points="289.8,518.1 290.8,513.0 288.4,508.4 279.4,504.6 279.0,504.9 274.3,518.1 274.8,519.5 275.7,520.5 278.6,522.1"/>
<polygon class="G" points="247.8,293.7 257.9,289.0 259.4,286.7 255.5,280.2 243.3,279.2 241.3,283.8 246.4,293.1"/>
<polygon class="G" points="165.7,269.7 172.3,260.6 172.2,256.5 167.6,254.5 160.3,260.0 155.3,265.0 160.3,270.4"/>
<polygon class="G" points="235.7,298.4 231.0,296.7 228.0,307.5 234.2,312.4 235.4,312.4 239.8,305.5"/>
<polygon class="O" points="56.4,334.5 56.4,334.6 56.2,335.8 55.1,343.3 63.9,345.8 67.0,336.8"/>
<polygon class="B" points="218.2,488.7 222.8,493.6 225.1,493.8 226.0,493.2 227.8,489.5 221.5,483.6"/>
<polygon class="B" points="137.7,420.2 141.3,417.2 140.5,410.4 140.5,410.3 132.2,412.7 130.9,417.0 132.0,418.5"/>
<polygon class="B" points="156.5,376.8 157.2,376.2 157.4,369.3 151.6,368.1 149.3,369.4 149.5,376.6 150.6,377.9"/>
<polygon class="G" points="206.5,356.5 205.1,356.3 197.5,361.2 200.6,368.1 206.7,369.3 210.9,365.2"/>
<polygon class="G" points="397.3,318.0 402.5,324.2 400.8,319.6 400.8,314.4"/>
<polygon class="Y" points="457.9,503.5 453.3,496.1 445.0,495.9 443.4,510.1 450.2,512.0 455.1,510.0"/>
<polygon class="G" points="214.9,523.0 206.8,525.3 207.4,532.6 210.8,535.4 219.3,530.3 219.4,528.1"/>
<polygon class="Y" points="262.0,253.5 257.9,246.1 242.7,248.2 238.0,254.7 239.5,256.8 251.0,261.8 260.2,256.4"/>
<polygon class="O" points="213.8,349.9 213.6,345.5 205.7,343.7 201.2,346.4 200.4,349.6 205.1,356.3 206.5,356.5"/>
<polygon class="Y" points="435.7,474.0 428.5,467.4 420.4,468.0 420.6,477.4 432.9,482.3"/>
<polygon class="L" points="181.8,499.8 181.8,500.9 186.2,505.9 197.7,498.6 197.7,498.0 189.1,491.6"/>
<polygon class="L" points="337.8,552.6 340.7,553.2 349.9,551.3 347.1,540.1 336.3,539.7 334.1,543.3"/>
<polygon class="L" points="154.6,479.3 150.5,479.8 147.4,482.8 152.0,491.5 160.6,489.8 162.9,486.4 162.2,483.9"/>
<polygon class="G" points="389.8,182.0 378.7,166.1 363.2,177.2 373.7,189.8 389.1,183.7"/>
<polygon class="L" points="267.1,342.9 272.3,341.1 275.6,334.6 270.6,328.2 265.3,328.2 261.5,338.6"/>
<polygon class="Y" points="65.3,326.5 67.2,336.6 72.5,336.4 78.7,329.6 78.8,329.2 70.8,323.5"/>
<polygon class="O" points="215.6,380.0 208.8,385.8 209.2,391.8 210.6,393.4 220.4,392.8 221.5,384.3 216.4,380.0"/>
<polygon class="B" points="252.3,381.4 259.1,378.9 257.4,372.4 254.0,371.1 249.6,373.1 248.6,374.8"/>
<polygon class="G" points="125.3,467.2 122.4,470.5 123.0,479.7 128.1,481.2 135.6,472.5 132.8,468.9"/>
<polygon class="B" points="217.4,353.8 228.0,354.2 228.5,352.4 222.9,342.0 216.6,342.2 213.6,345.5 213.8,349.9"/>
<polygon class="O" points="124.4,427.7 124.1,427.5 112.8,428.5 116.9,436.3 123.0,434.9"/>
<polygon class="Y" points="75.7,384.8 72.9,380.1 68.6,381.2 69.4,382.4 72.5,390.8"/>
<polygon class="G" points="356.5,367.2 348.0,368.3 346.3,373.2 354.1,379.1 357.6,376.8 358.9,373.2"/>
<polygon class="L" points="171.7,473.4 171.2,474.5 177.9,483.1 182.6,477.1 181.6,471.3 176.6,470.7"/>
<polygon class="B" points="139.5,379.1 142.0,376.3 141.5,370.7 138.6,369.0 135.5,370.0 134.1,373.7 139.4,379.1"/>
<polygon class="Y" points="371.1,442.7 367.9,453.1 376.9,460.0 379.9,459.7 383.3,456.2 381.6,447.1 371.4,442.5"/>
<polygon class="L" points="255.5,338.4 252.6,340.0 250.4,343.9 254.1,350.2 265.1,351.4 267.1,342.9 261.5,338.6"/>
<polygon class="G" points="185.7,569.4 193.2,561.1 191.1,553.0 185.8,549.9 183.3,550.3 179.0,564.8"/>
<polygon class="G" points="202.5,323.4 208.6,322.4 210.9,315.8 201.2,311.7 199.2,312.7 198.7,320.4"/>
<polygon class="G" points="411.9,245.0 390.4,242.3 397.3,263.0 409.8,259.3"/>
<polygon class="L" points="197.7,498.6 201.0,504.8 209.8,504.2 211.3,500.7 207.3,496.4 198.8,496.9 197.7,498.0"/>
<polygon class="G" points="411.7,494.8 417.9,488.6 417.5,480.9 406.8,478.9 403.8,481.8 404.5,488.6"/>
<polygon class="L" points="549.2,560.3 553.4,561.4 548.9,558.4"/>
<polygon class="O" points="121.5,445.7 118.7,451.8 123.8,459.1 127.7,456.6 129.4,449.7 123.5,445.3"/>
<polygon class="O" points="305.1,429.0 308.1,426.7 309.3,422.3 303.7,417.8 296.5,419.2 294.0,423.8 297.4,427.6"/>
<polygon class="G" points="227.3,226.8 225.7,218.5 207.9,215.3 199.5,223.2 199.4,224.3 211.0,233.2"/>
<polygon class="O" points="103.0,500.1 104.1,494.9 102.8,489.7 91.5,485.6 86.1,488.7 88.7,501.6"/>
<polygon class="B" points="90.7,364.5 91.4,367.4 95.5,371.0 103.1,367.8 103.9,360.9 100.3,358.0"/>
<polygon class="G" points="449.8,367.8 444.5,373.6 445.5,377.3 448.0,373.8 451.2,368.1"/>
<polygon class="G" points="135.0,577.0 127.5,571.6 127.5,571.7 133.3,580.0 133.5,580.3"/>
<polygon class="B" points="171.3,397.3 173.5,398.2 180.8,395.1 181.1,390.7 178.0,388.8 169.1,389.9"/>
<polygon class="L" points="497.7,554.1 486.9,548.8 482.7,554.6 485.6,562.0 494.9,564.7 495.3,564.4"/>
<polygon class="G" points="112.6,323.9 112.1,320.8 111.8,320.5 105.7,319.9 100.4,324.2 100.6,331.0 100.8,331.3 108.6,331.9"/>
<polygon class="G" points="401.4,352.4 405.3,356.8 411.4,356.4 411.8,355.8 410.2,350.2 404.3,343.2 404.3,341.5 402.6,341.9 401.4,343.4"/>
<polygon class="L" points="324.8,384.8 329.0,386.2 334.6,383.6 335.4,381.3 334.5,378.1 327.4,373.7 323.2,377.9"/>
<polygon class="G" points="246.4,293.1 241.3,283.8 232.4,286.9 229.7,293.1 230.1,295.6 231.0,296.7 235.7,298.4"/>
<polygon class="O" points="473.8,567.5 473.1,555.8 471.4,554.8 459.6,557.2 458.3,559.8 468.6,572.4"/>
<polygon class="G" points="191.5,341.2 192.5,340.8 197.9,333.3 190.8,327.2 183.4,335.0"/>
<polygon class="G" points="402.9,408.0 404.0,422.3 409.3,422.7 420.4,415.1 420.5,410.6 417.8,407.1 405.1,405.4"/>
<polygon class="O" points="382.8,268.2 374.5,261.0 366.3,264.9 362.6,272.8 368.7,282.4 379.3,281.1"/>
<polygon class="B" points="157.2,376.2 156.5,376.8 159.2,386.2 159.3,386.2 164.3,379.9 162.5,376.7"/>
<polygon class="Y" points="240.3,272.7 239.5,256.8 238.0,254.7 235.6,254.8 227.4,263.2 232.4,272.7"/>
<polygon class="G" points="181.5,620.5 189.2,622.8 191.7,616.7 193.8,612.5 186.6,604.0 176.9,611.0"/>
<polygon class="L" points="227.0,515.5 225.1,518.2 226.1,522.6 232.0,525.9 234.4,518.1 232.1,515.4"/>
<polygon class="B" points="198.5,395.6 201.9,400.9 209.2,401.5 210.6,393.4 209.2,391.8 199.6,393.2"/>
<polygon class="L" points="327.9,545.6 318.9,540.8 318.7,541.0 321.8,544.9 326.7,549.0"/>
<polygon class="Y" points="472.2,512.8 467.2,502.5 457.9,503.5 455.1,510.0 462.0,516.7 471.6,515.4"/>
<polygon class="L" points="398.7,545.8 385.8,540.7 380.9,548.5 385.5,555.2 400.4,551.9 400.8,550.5"/>
<polygon class="Y" points="225.5,458.7 229.5,466.1 233.0,467.3 244.2,463.5 244.6,462.3 235.9,453.1 225.5,458.7"/>
<polygon class="G" points="257.3,304.8 260.5,301.9 257.9,289.0 247.8,293.7 249.2,300.1"/>
<polygon class="L" points="206.1,515.1 203.3,521.9 206.8,525.3 214.9,523.0 216.2,516.6 214.0,512.6"/>
<polygon class="B" points="178.2,485.3 187.1,487.2 189.0,477.6 182.6,477.1 177.9,483.1"/>
<polygon class="G" points="414.4,375.9 417.7,368.4 411.4,356.4 405.3,356.8 401.8,362.5 408.2,375.3 410.6,376.6"/>
<polygon class="G" points="389.6,347.0 392.9,353.0 401.4,352.4 401.4,343.4 391.2,343.1"/>
<polygon class="B" points="359.8,432.6 366.4,429.1 366.4,423.4 365.9,422.8 355.7,421.8 354.2,423.5 354.4,430.7"/>
<polygon class="O" points="362.4,441.1 359.8,432.6 354.4,430.7 350.3,434.1 349.7,438.2 357.5,444.3"/>
<polygon class="G" points="537.7,564.0 545.5,564.7 549.2,560.3 548.9,558.4 540.0,552.5 540.0,549.5 535.7,550.0 534.5,553.1"/>
<polygon class="O" points="281.0,413.9 284.8,414.2 289.2,409.3 289.1,408.8 282.9,403.3 279.3,404.0 277.4,407.4"/>
<polygon class="L" points="504.7,533.9 505.4,529.9 501.3,525.0 500.1,520.5 495.2,518.5 490.1,531.2 493.7,537.1 501.1,537.4"/>
<polygon class="G" points="507.5,567.6 511.4,564.5 511.6,563.8 502.7,552.0 497.7,554.1 495.3,564.4"/>
<polygon class="L" points="136.8,472.7 142.2,482.8 143.5,483.4 147.4,482.8 150.5,479.8 146.2,468.1"/>
<polygon class="G" points="229.7,293.1 215.3,286.6 213.8,288.3 212.9,294.3 217.5,300.8 230.1,295.6"/>
<polygon class="L" points="354.5,486.3 355.1,492.6 364.6,495.8 368.7,492.4 365.6,480.3 362.0,479.7"/>
<polygon class="Y" points="111.4,452.9 109.4,455.6 114.1,461.7 123.3,460.3 123.8,459.1 118.7,451.8"/>
<polygon class="O" points="261.6,365.1 256.1,361.3 253.8,361.3 254.0,371.1 257.4,372.4 261.7,369.8"/>
<polygon class="G" points="189.2,587.3 186.7,578.3 189.7,572.3 186.1,570.8 182.3,580.1 186.5,587.5"/>
<polygon class="G" points="257.3,273.2 255.5,280.2 259.4,286.7 267.1,286.3 272.4,276.0 270.1,272.4 261.6,270.4"/>
<polygon class="L" points="189.1,491.6 197.7,498.0 198.8,496.9 200.4,492.4 196.9,484.6 196.1,484.2 188.2,488.1"/>
<polygon class="G" points="270.0,305.9 267.0,301.9 260.5,301.9 257.3,304.8 256.6,309.9 259.0,313.8 264.1,315.6 267.4,314.7"/>
<polygon class="B" points="349.5,411.7 355.8,418.6 360.4,413.0 359.9,408.3 356.8,406.2 353.2,406.1 350.0,408.0"/>
<polygon class="L" points="82.2,325.5 89.1,324.8 92.6,320.1 92.5,317.1 81.9,311.5 81.8,311.5 79.8,314.8"/>
<polygon class="B" points="244.8,503.9 243.4,498.5 234.5,502.7 234.6,503.2 240.4,508.9"/>
<polygon class="G" points="291.7,309.6 284.8,311.8 285.9,324.1 293.4,326.4 297.7,320.1 292.6,310.1"/>
<polygon class="O" points="409.7,444.0 404.2,438.5 394.7,438.4 391.5,441.9 397.4,452.4 409.7,445.1"/>
<polygon class="L" points="156.9,328.5 157.3,327.6 153.7,316.0 149.1,315.7 145.0,321.8 150.1,328.9"/>
<polygon class="B" points="109.8,372.5 103.1,367.8 95.5,371.0 96.4,377.6 106.8,378.0"/>
<polygon class="L" points="103.4,531.3 94.1,530.7 88.4,537.9 88.5,538.7 97.3,548.0 104.6,545.6"/>
<polygon class="Y" points="111.9,423.6 104.0,418.4 98.4,424.9 106.5,431.1 111.8,428.0"/>
<polygon class="G" points="317.2,291.9 319.3,289.9 320.6,283.5 316.5,276.2 313.8,275.5 307.4,278.6 305.7,285.9"/>
<polygon class="B" points="157.4,369.3 159.1,368.0 159.5,362.2 155.4,360.1 151.8,362.2 151.6,368.1"/>
<polygon class="L" points="247.9,444.1 252.1,456.1 258.6,456.8 262.1,455.1 264.3,444.3 253.3,439.9 250.4,440.9"/>
<polygon class="B" points="124.2,399.8 117.0,402.8 118.3,409.7 121.8,410.8 127.2,406.7 124.3,399.8"/>
<polygon class="L" points="390.0,571.9 392.6,568.6 392.5,567.9 385.2,559.9 375.3,565.9 375.7,567.2 376.1,567.4 389.8,571.9"/>
<polygon class="B" points="239.3,358.7 242.0,355.4 241.8,351.0 235.0,347.4 228.5,352.4 228.0,354.2 228.0,354.4 239.2,358.7"/>
<polygon class="O" points="78.0,400.1 76.2,398.9 76.7,400.0 78.3,404.0"/>
<polygon class="Y" points="332.4,343.2 337.5,340.7 338.7,336.9 333.2,327.9 325.9,338.9"/>
<polygon class="G" points="444.5,373.6 435.3,375.0 431.0,381.4 437.5,388.5 445.5,377.3"/>
<polygon class="Y" points="227.4,443.0 236.2,447.4 241.0,444.0 236.5,431.7 235.5,431.3 227.0,438.4"/>
<polygon class="B" points="362.4,441.1 371.1,442.7 371.4,442.5 373.5,434.8 366.4,429.1 359.8,432.6"/>
<polygon class="B" points="182.1,270.8 172.3,260.6 165.7,269.7 171.2,278.8 175.7,280.1"/>
<polygon class="G" points="188.2,488.1 196.1,484.2 195.5,478.9 189.4,477.3 189.0,477.6 187.1,487.2"/>
<polygon class="L" points="77.9,525.1 73.9,516.6 68.0,515.8 62.5,520.6 63.6,530.3 74.9,531.1 76.9,529.7"/>
<polygon class="G" points="356.8,140.7 354.4,137.8 345.6,140.0 341.7,141.2 352.6,145.8"/>
<polygon class="G" points="431.0,357.8 437.9,356.3 440.8,344.7 431.5,345.5 429.1,351.4 426.4,352.4"/>
<polygon class="G" points="454.3,350.8 447.2,360.9 449.8,367.8 451.2,368.1 457.4,357.3 460.3,352.9"/>
<polygon class="L" points="97.8,288.8 93.0,296.1 97.6,299.4 97.8,298.9 106.1,291.9 106.1,291.7 99.9,288.4"/>
<polygon class="O" points="391.1,418.5 403.7,422.5 404.0,422.3 402.9,408.0 394.5,407.4 390.8,409.3"/>
<polygon class="B" points="133.3,437.7 131.5,429.3 128.6,427.4 124.4,427.7 123.0,434.9 126.7,439.0"/>
<polygon class="G" points="134.0,314.1 131.4,308.1 131.1,308.6 131.1,314.2 132.2,315.3"/>
<polygon class="O" points="351.2,396.2 353.2,406.1 356.8,406.2 360.6,397.0 353.9,393.3 353.2,393.5"/>
<polygon class="L" points="173.0,504.5 172.2,508.9 177.7,515.0 186.2,505.9 186.2,505.9 181.8,500.9"/>
<polygon class="L" points="277.2,444.8 265.4,443.4 264.3,444.3 262.1,455.1 267.0,456.9 280.6,451.5"/>
<polygon class="B" points="140.0,407.0 140.5,410.3 140.5,410.4 148.2,410.6 148.6,406.4 144.8,403.5 142.8,403.8"/>
<polygon class="G" points="324.4,269.9 330.5,270.8 335.2,260.4 328.8,252.5 324.2,252.4 317.6,257.6"/>
<polygon class="Y" points="189.3,258.0 189.1,269.5 203.1,265.2 204.3,259.4 196.6,251.7"/>
<polygon class="G" points="190.2,284.0 193.1,278.3 188.7,270.2 182.1,270.8 175.7,280.1 176.4,281.7 185.3,286.0"/>
<polygon class="O" points="189.4,389.9 183.1,389.3 181.1,390.7 180.8,395.1 184.6,400.2 191.5,398.5 192.5,397.2"/>
<polygon class="L" points="507.5,567.6 495.3,564.4 494.9,564.7 492.1,575.6 494.1,577.4 500.0,575.0 505.8,575.4"/>
<polygon class="Y" points="366.9,406.0 359.9,408.3 360.4,413.0 365.7,416.2 372.3,411.2 372.6,409.8"/>
<polygon class="O" points="168.0,365.3 165.7,360.3 163.7,359.6 159.5,362.2 159.1,368.0 165.2,369.9"/>
<polygon class="Y" points="338.8,321.7 346.8,321.5 352.9,313.6 353.0,306.9 343.6,301.8 337.6,304.9 334.2,311.2"/>
<polygon class="G" points="378.7,166.1 389.8,182.0 399.2,176.8 399.8,173.5 398.9,173.3 388.9,160.0 388.8,160.0 379.1,164.6"/>
<polygon class="L" points="317.0,320.6 322.5,323.4 326.8,311.1 325.0,309.5 315.4,309.9 313.9,313.1"/>
<polygon class="G" points="303.9,223.7 296.8,233.1 299.3,241.4 304.6,244.5 317.1,236.6 318.5,232.9 312.2,227.8 312.2,222.8"/>
<polygon class="B" points="213.1,490.4 216.1,498.0 222.8,493.6 218.2,488.7 213.2,490.2"/>
<polygon class="G" points="217.2,303.8 213.2,307.3 212.4,314.9 219.7,317.0 221.8,316.0 223.9,308.8"/>
<polygon class="G" points="314.5,306.8 315.4,309.9 325.0,309.5 325.1,301.7 318.8,298.3"/>
<polygon class="G" points="172.1,581.9 168.1,577.8 159.6,579.5 156.6,587.7 161.8,593.9 168.6,594.4 169.7,593.4"/>
<polygon class="B" points="179.2,378.9 177.2,373.3 175.5,372.4 171.1,374.3 169.6,381.1 169.9,381.6 176.3,382.2"/>
<polygon class="B" points="168.0,462.1 161.1,464.4 158.9,468.6 159.0,468.8 167.9,475.4 171.2,474.5 171.7,473.4 168.5,462.4"/>
<polygon class="B" points="180.8,395.1 173.5,398.2 175.0,404.7 177.1,405.4 184.3,401.5 184.6,400.2"/>
<polygon class="G" points="179.3,242.3 178.8,245.0 179.6,243.0"/>
<polygon class="G" points="172.2,256.5 175.0,254.4 178.6,245.5 169.9,252.7 167.6,254.5"/>
<polygon class="L" points="365.3,508.2 364.4,507.3 353.4,505.7 350.6,508.3 352.5,522.8 358.8,522.4 365.6,512.2"/>
<polygon class="Y" points="106.3,472.4 105.2,473.2 104.3,487.3 117.8,483.5 118.5,482.1 109.0,472.0"/>
<polygon class="G" points="335.9,288.6 342.5,292.9 351.0,286.9 350.6,275.1 348.8,274.0 334.9,277.9 334.4,279.4"/>
<polygon class="G" points="284.7,434.7 279.2,437.7 277.2,444.8 280.6,451.5 281.7,452.1 295.0,443.3 292.8,439.3"/>
<polygon class="L" points="148.9,541.0 149.8,547.1 153.7,550.4 164.8,541.9 164.9,541.0 157.6,536.0"/>
<polygon class="Y" points="295.0,443.3 281.7,452.1 282.2,453.3 292.2,460.4 297.3,459.7 297.2,444.1"/>
<polygon class="Y" points="258.9,416.5 259.1,416.6 263.7,415.0 266.4,409.4 261.3,404.2 258.8,404.1 255.8,406.3 255.8,411.4"/>
<polygon class="G" points="291.7,301.7 287.6,297.1 279.8,300.6 278.7,305.7 282.2,311.0 284.8,311.8 291.7,309.6"/>
<polygon class="L" points="535.6,572.7 547.6,573.4 545.5,564.7 537.7,564.0 534.1,567.6"/>
<polygon class="Y" points="230.6,424.1 225.3,412.4 224.1,411.5 220.4,413.6 217.2,420.3 219.9,426.6"/>
<polygon class="L" points="308.0,329.6 316.4,335.3 322.7,323.7 322.5,323.4 317.0,320.6 308.2,325.2"/>
<polygon class="B" points="185.6,432.4 189.3,426.0 188.2,424.3 179.9,423.3 178.5,430.1"/>
<polygon class="G" points="375.1,366.2 371.9,373.1 375.7,374.7 382.5,372.0 380.2,365.3"/>
<polygon class="B" points="88.9,381.7 87.7,381.5 79.9,385.7 85.3,395.2 87.5,395.5 92.0,390.6"/>
<polygon class="O" points="302.4,373.8 296.4,378.4 295.8,381.1 296.7,382.9 304.2,386.0 304.2,386.0 307.7,379.6"/>
<polygon class="G" points="306.6,314.2 313.9,313.1 315.4,309.9 314.5,306.8 305.2,301.8 302.5,307.3"/>
<polygon class="L" points="411.9,547.1 411.3,535.0 406.2,533.3 402.2,534.8 398.7,545.8 400.8,550.5"/>
<polygon class="L" points="62.8,475.2 62.6,478.9 75.8,485.1 80.9,472.0 80.9,471.9 80.0,473.3 68.4,469.8"/>
<polygon class="L" points="131.3,486.5 130.6,492.0 132.1,494.3 138.5,497.0 141.3,495.0 143.5,483.4 142.2,482.8"/>
<polygon class="Y" points="459.6,575.4 462.5,576.3 467.7,577.4 468.3,576.0 468.0,575.3"/>
<polygon class="Y" points="381.6,391.9 387.6,387.5 383.6,380.7 378.0,381.4 377.3,382.4 378.4,390.4"/>
<polygon class="B" points="147.1,464.9 140.2,457.5 136.2,459.5 132.8,468.9 135.6,472.5 136.8,472.7 146.2,468.1 147.3,466.0"/>
<polygon class="L" points="218.2,268.5 208.7,274.2 215.5,285.2 224.2,278.0"/>
<polygon class="L" points="315.5,386.7 321.9,387.3 324.8,384.8 323.2,377.9 320.6,377.4 314.0,381.9"/>
<polygon class="B" points="151.1,428.2 147.5,425.5 140.6,427.3 141.0,432.2 144.7,434.9 151.2,432.5"/>
<polygon class="G" points="162.2,296.3 163.2,305.3 164.3,306.2 172.0,304.4 173.6,295.3 172.3,293.9 165.5,293.3"/>
<polygon class="O" points="232.3,405.7 232.6,399.8 228.0,396.3 223.4,396.8 222.0,400.9 224.6,409.3"/>
<polygon class="L" points="262.5,487.8 266.7,491.6 276.7,491.9 276.6,481.9 270.0,478.0 262.6,483.2"/>
<polygon class="B" points="124.4,416.5 121.8,410.8 118.3,409.7 113.7,412.9 114.9,419.8 121.7,420.1"/>
<polygon class="Y" points="336.1,517.1 342.0,522.9 350.2,524.4 352.5,522.8 350.6,508.3 339.5,508.1"/>
<polygon class="O" points="260.3,469.6 258.6,456.8 252.1,456.1 244.6,462.3 244.2,463.5 245.2,466.1 256.5,473.6"/>
<polygon class="O" points="292.8,439.3 295.0,443.3 297.2,444.1 303.2,443.2 305.3,440.9 305.1,429.0 297.4,427.6"/>
<polygon class="G" points="287.9,292.8 282.3,288.0 273.1,292.1 279.8,300.6 287.6,297.1"/>
<polygon class="G" points="196.4,524.6 197.4,535.6 207.4,532.6 206.8,525.3 203.3,521.9 197.9,522.6"/>
<polygon class="O" points="281.6,368.7 280.5,368.9 277.6,375.0 283.5,382.9 285.2,382.4 285.5,382.1 287.2,375.7"/>
<polygon class="Y" points="396.4,479.4 394.5,469.3 384.0,471.1 380.1,478.6 381.4,480.7 390.3,483.2"/>
<polygon class="B" points="225.1,493.8 222.8,493.6 216.1,498.0 216.1,498.2 219.2,501.7 224.8,502.5"/>
<polygon class="G" points="151.5,602.2 144.4,592.4 142.3,592.7 143.3,596.7 146.7,605.0 147.8,605.1"/>
<polygon class="L" points="482.7,554.6 473.1,555.8 473.8,567.5 481.2,568.4 485.6,562.0"/>
<polygon class="L" points="195.6,538.0 191.4,538.3 185.8,549.9 191.1,553.0 199.5,549.1 200.0,546.7 201.1,545.8"/>
<polygon class="G" points="357.6,365.2 356.5,367.2 358.9,373.2 368.6,373.0 366.2,364.8"/>
<polygon class="G" points="80.7,279.1 79.7,280.8 80.4,290.6 80.1,293.8 82.8,294.1 84.9,280.1"/>
<polygon class="G" points="332.2,156.4 336.6,142.7 331.1,144.4 325.7,154.6"/>
<polygon class="O" points="178.0,388.8 181.1,390.7 183.1,389.3 185.0,380.7 179.2,378.9 176.3,382.2"/>
<polygon class="Y" points="485.6,576.1 481.2,568.4 473.8,567.5 468.6,572.4 468.0,575.3 468.3,576.0 473.0,578.5 480.0,580.0 482.1,580.0"/>
<polygon class="B" points="162.4,453.0 162.9,449.1 154.5,444.7 151.6,451.5 154.3,456.1 156.7,456.7"/>
<polygon class="Y" points="228.0,354.2 217.4,353.8 216.4,364.8 216.7,365.0 226.8,361.2 228.0,354.4"/>
<polygon class="G" points="154.5,315.3 153.7,316.0 157.3,327.6 166.2,323.0 165.3,315.1"/>
<polygon class="G" points="46.5,480.9 44.9,486.6 50.0,496.7 50.0,500.3 58.0,491.7 57.4,483.1"/>
<polygon class="B" points="199.2,422.6 199.2,419.2 194.4,414.5 188.6,419.1 188.2,424.3 189.3,426.0 195.0,427.0"/>
<polygon class="Y" points="210.3,438.5 207.5,430.5 198.1,434.5 197.2,437.4 206.1,442.2"/>
<polygon class="L" points="302.4,372.1 302.4,373.8 307.7,379.6 308.8,379.5 314.4,371.2 311.1,367.9 304.0,369.9"/>
<polygon class="B" points="317.9,402.2 317.0,409.1 322.4,413.1 327.7,407.8 324.7,401.6"/>
<polygon class="G" points="435.3,375.0 444.5,373.6 449.8,367.8 447.2,360.9 437.9,356.3 431.0,357.8 428.6,363.9"/>
<polygon class="O" points="247.5,422.4 248.5,423.9 258.9,416.5 255.8,411.4 247.5,414.0"/>
<polygon class="B" points="135.5,370.0 130.4,365.7 125.5,368.9 129.2,375.5 134.1,373.7"/>
<polygon class="G" points="350.1,188.7 352.8,179.7 335.8,169.6 334.6,170.6 328.5,188.6 330.1,190.8 338.0,194.3"/>
<polygon class="Y" points="472.2,512.8 484.0,505.8 480.0,502.5 474.7,498.2 469.4,499.1 467.2,502.5"/>
<polygon class="G" points="208.3,195.8 206.9,196.1 206.6,196.5 207.9,215.3 225.7,218.5 226.6,216.5 219.2,201.7"/>
<polygon class="B" points="130.8,391.5 132.5,393.8 139.0,391.4 139.4,388.8 133.4,384.9"/>
<polygon class="G" points="90.1,276.5 89.0,278.6 97.8,288.8 99.9,288.4 103.6,281.8 99.2,277.4 93.1,275.1"/>
<polygon class="B" points="121.7,420.1 114.9,419.8 111.9,423.6 111.8,428.0 112.8,428.5 124.1,427.5"/>
<polygon class="Y" points="432.5,569.3 430.4,573.4 434.9,569.7"/>
<polygon class="O" points="120.9,343.8 120.9,343.4 120.0,343.3 120.5,341.6 119.2,335.3 110.8,335.7 108.4,344.7 109.7,346.8 109.9,347.0"/>
<polygon class="Y" points="206.2,446.8 214.0,449.5 217.3,447.0 214.4,439.2 210.3,438.5 206.1,442.2"/>
<polygon class="G" points="267.1,286.3 259.4,286.7 257.9,289.0 260.5,301.9 267.0,301.9 272.3,291.9"/>
<polygon class="G" points="248.3,227.6 259.3,238.5 272.3,231.4 265.3,217.9 263.3,217.5 263.3,227.8 254.4,225.6 249.0,225.9"/>
<polygon class="G" points="369.9,556.4 362.7,547.4 354.8,552.5 362.0,557.9 369.0,562.6"/>
<polygon class="G" points="208.3,195.8 219.2,201.7 216.7,196.7 216.3,188.1"/>
<polygon class="O" points="188.5,526.1 187.3,535.3 191.4,538.3 195.6,538.0 197.4,535.6 196.4,524.6"/>
<polygon class="O" points="308.7,390.3 307.0,396.4 311.4,399.9 315.6,399.5 316.7,395.8 313.1,389.9"/>
<polygon class="B" points="200.6,368.1 197.5,361.2 196.2,360.6 186.7,365.6 187.0,368.9 197.2,371.2"/>
<polygon class="Y" points="294.3,329.5 290.8,336.6 297.6,344.0 303.4,341.3 302.8,332.8"/>
<polygon class="O" points="114.0,356.3 120.4,356.1 124.6,347.5 124.2,345.5 120.9,343.8 109.9,347.0"/>
<polygon class="G" points="282.3,288.0 283.3,282.2 275.5,276.1 272.4,276.0 267.1,286.3 272.3,291.9 273.1,292.1"/>
<polygon class="G" points="385.0,377.6 394.0,377.1 395.3,374.9 393.3,369.6 390.8,368.8 383.0,372.3"/>
<polygon class="L" points="515.2,537.3 517.9,547.1 530.1,543.5 530.5,540.3 530.0,540.0 527.5,535.0 520.6,531.5"/>
<polygon class="B" points="175.5,420.2 175.0,413.5 170.6,411.1 168.3,412.6 167.9,420.8 171.0,422.0"/>
<polygon class="Y" points="403.7,504.5 408.2,516.1 414.3,516.3 418.8,512.3 419.0,502.4 411.8,496.3"/>
<polygon class="L" points="396.0,318.1 386.4,309.9 373.9,318.6 381.2,327.0 390.8,324.2"/>
<polygon class="G" points="221.8,316.0 228.9,318.8 234.2,312.4 228.0,307.5 223.9,308.8"/>
<polygon class="O" points="407.8,568.2 408.0,562.1 401.6,557.0 392.5,567.9 392.6,568.6 401.7,573.0"/>
<polygon class="L" points="176.8,529.0 182.7,521.2 177.7,515.2 170.1,520.3 170.3,528.2"/>
<polygon class="G" points="155.0,279.6 147.9,275.7 149.2,279.4 146.4,285.0 141.5,287.4 146.6,290.2 149.8,289.7 155.6,281.7"/>
<polygon class="L" points="61.4,354.6 64.0,346.0 63.9,345.8 55.1,343.3 53.7,353.5"/>
<polygon class="Y" points="86.6,425.2 92.8,425.2 92.3,415.9 85.5,411.8 82.9,415.6 83.3,416.7 85.1,423.8"/>
<polygon class="O" points="271.7,365.7 268.2,372.1 273.5,376.4 277.6,375.0 280.5,368.9 273.8,365.3"/>
<polygon class="G" points="293.7,263.9 292.7,258.8 289.2,256.2 279.5,259.8 282.9,269.6 288.6,271.0"/>
<polygon class="G" points="394.8,196.7 408.4,198.4 413.3,191.5 412.6,185.0 399.2,176.8 389.8,182.0 389.1,183.7"/>
<polygon class="Y" points="317.7,433.4 326.4,436.8 330.5,430.2 324.9,425.5 322.1,425.4 317.6,432.8"/>
<polygon class="L" points="112.1,314.9 111.7,314.2 106.1,311.4 103.1,307.4 99.5,311.1 105.7,319.9 111.8,320.5"/>
<polygon class="L" points="419.1,525.4 416.5,532.9 422.2,537.1 431.1,534.4 431.8,525.0"/>
<polygon class="L" points="276.7,491.9 279.8,494.5 291.6,489.5 291.9,489.2 288.9,476.4 286.4,474.7 276.6,481.9"/>
<polygon class="O" points="112.8,428.5 111.8,428.0 106.5,431.1 104.1,438.3 104.8,440.4 110.3,442.7 114.9,441.3 116.9,436.3"/>
<polygon class="G" points="142.4,301.4 146.6,290.2 141.5,287.4 140.8,287.8 135.3,291.9 135.3,300.4"/>
<polygon class="O" points="201.2,346.4 192.5,340.8 191.5,341.2 188.8,346.8 190.3,352.3 193.1,353.6 200.4,349.6"/>
<polygon class="G" points="303.0,319.6 297.7,320.1 293.4,326.4 294.3,329.5 302.8,332.8 308.0,329.6 308.2,325.2"/>
<polygon class="O" points="203.0,287.1 200.2,278.8 193.1,278.3 190.2,284.0 197.4,293.9"/>
<polygon class="G" points="395.3,374.9 408.2,375.3 401.8,362.5 397.7,363.8 393.3,369.6"/>
<polygon class="L" points="438.7,457.4 442.1,458.7 440.0,451.3 436.9,450.2"/>
<polygon class="Y" points="61.7,369.9 61.6,370.0 62.1,370.8 68.6,381.2 72.9,380.1 73.4,376.5 64.9,369.5"/>
<polygon class="B" points="132.0,418.5 130.9,417.0 124.4,416.5 121.7,420.1 124.1,427.5 124.4,427.7 128.6,427.4"/>
<polygon class="O" points="81.7,507.2 84.0,507.1 88.7,501.6 86.1,488.7 76.8,487.1 71.8,497.6"/>
<polygon class="L" points="266.5,435.5 265.4,443.4 277.2,444.8 279.2,437.7 272.8,432.5"/>
<polygon class="Y" points="282.2,453.3 278.1,467.4 285.6,472.7 292.2,460.4"/>
<polygon class="G" points="353.0,306.9 352.9,313.6 367.2,321.4 372.4,318.4 368.5,305.0 356.7,304.2"/>
<polygon class="O" points="145.5,505.5 146.0,514.1 149.5,515.4 158.9,507.8 158.3,503.7 152.7,501.2"/>
<polygon class="Y" points="323.3,465.5 313.3,468.4 313.4,477.8 317.9,482.3 327.9,480.2 328.9,479.1"/>
<polygon class="Y" points="213.5,455.3 206.7,458.1 205.6,462.6 210.9,467.8 214.9,467.4 219.3,460.2"/>
<polygon class="G" points="69.3,498.3 63.4,507.1 68.0,515.8 73.9,516.6 81.7,507.2 71.8,497.6"/>
<polygon class="Y" points="406.8,478.9 407.7,466.2 398.8,463.7 394.5,469.3 396.4,479.4 403.8,481.8"/>
<polygon class="B" points="151.8,362.2 146.0,359.3 143.6,360.1 146.2,368.4 149.3,369.4 151.6,368.1"/>
<polygon class="L" points="376.9,460.0 367.9,453.1 362.8,455.1 360.9,463.7 370.2,466.6"/>
<polygon class="Y" points="241.3,273.5 243.3,279.2 255.5,280.2 257.3,273.2 250.6,267.9"/>
<polygon class="B" points="189.9,379.6 192.2,387.1 198.1,387.7 201.4,382.1 201.2,381.6 196.6,377.9"/>
<polygon class="L" points="468.5,529.7 477.6,534.5 482.7,529.6 480.0,521.5 473.6,519.1"/>
<polygon class="L" points="493.7,516.3 495.2,518.5 500.1,520.5 500.0,520.0 493.9,516.0"/>
<polygon class="B" points="197.2,437.4 196.3,438.1 195.5,445.5 202.0,451.0 206.2,446.8 206.1,442.2"/>
<polygon class="G" points="234.9,530.6 234.8,530.0 232.0,525.9 226.1,522.6 219.4,528.1 219.3,530.3 221.7,532.4 222.6,532.0 224.4,533.7"/>
<polygon class="L" points="306.3,342.5 303.4,341.3 297.6,344.0 296.0,348.6 297.4,351.4 307.1,354.8 307.4,354.6 309.5,349.8"/>
<polygon class="L" points="280.1,538.2 271.7,538.4 271.7,538.5 274.6,541.4 281.7,544.9 282.0,544.0"/>
<polygon class="B" points="335.8,414.8 338.0,413.6 340.1,408.7 336.3,402.3 335.6,402.4 330.2,407.9"/>
<polygon class="B" points="150.5,378.4 150.6,377.9 149.5,376.6 142.0,376.3 139.5,379.1 141.6,382.1 146.7,383.0"/>
<polygon class="L" points="368.6,373.0 358.9,373.2 357.6,376.8 363.8,382.3 368.0,381.2 369.5,373.6"/>
<polygon class="O" points="185.0,455.2 189.0,454.3 189.8,448.8 184.6,443.2 176.1,450.5 177.5,452.2"/>
<polygon class="Y" points="88.4,350.9 85.7,341.4 77.0,343.0 74.8,349.4 75.7,351.6 78.6,353.4 87.2,352.3"/>
<polygon class="G" points="188.5,314.5 178.4,314.9 178.0,321.5 179.6,323.2 190.3,323.8 190.5,323.4"/>
<polygon class="L" points="59.7,324.2 59.6,322.0 57.7,324.1 57.5,326.0"/>
<polygon class="G" points="314.4,371.2 314.8,371.3 321.1,366.8 321.0,362.2 318.2,360.2 311.4,365.3 311.1,367.9"/>
<polygon class="L" points="135.6,544.2 140.8,538.0 134.2,529.9 133.2,529.9 127.5,539.8 128.0,542.0"/>
<polygon class="G" points="195.4,227.8 182.2,228.6 181.5,230.2 181.6,230.8 179.3,242.3 179.6,243.0 195.0,245.3"/>
<polygon class="L" points="375.7,374.7 371.9,373.1 369.5,373.6 368.0,381.2 369.9,383.0 377.3,382.4 378.0,381.4"/>
<polygon class="Y" points="372.6,409.8 372.3,411.2 376.3,420.8 382.2,417.7 382.4,412.2 375.3,408.2"/>
<polygon class="O" points="125.5,390.5 122.7,393.7 124.2,399.8 124.3,399.8 132.4,397.5 132.5,393.8 130.8,391.5"/>
<polygon class="O" points="296.5,419.2 294.8,411.2 289.2,409.3 284.8,414.2 288.2,423.8 294.0,423.8"/>
<polygon class="L" points="62.8,475.2 68.4,469.8 63.3,468.3 58.4,469.8"/>
<polygon class="G" points="305.7,285.9 307.4,278.6 301.1,274.0 292.0,278.5 296.6,287.9 300.3,289.3"/>
<polygon class="O" points="265.1,351.4 265.9,353.3 277.2,355.1 277.2,355.1 278.1,346.0 272.3,341.1 267.1,342.9"/>
<polygon class="L" points="168.9,499.8 173.0,504.5 181.8,500.9 181.8,499.8 174.3,489.8 173.7,490.0"/>
<polygon class="G" points="182.3,580.1 186.1,570.8 185.7,569.4 179.0,564.8 172.5,564.6 169.4,566.6 168.1,577.8 172.1,581.9"/>
<polygon class="O" points="350.0,408.0 353.2,406.1 351.2,396.2 342.4,397.9 347.1,406.8"/>
<polygon class="L" points="80.9,472.0 83.3,471.9 88.9,464.5 88.2,462.9 86.7,463.3 80.9,471.9"/>
<polygon class="G" points="147.7,270.3 146.4,271.1 146.9,272.6"/>
<polygon class="B" points="247.1,524.0 240.3,533.1 242.5,534.9 247.0,534.4 253.1,529.1 253.1,529.0 250.5,525.1"/>
<polygon class="L" points="351.9,355.0 357.0,359.7 365.2,354.8 358.8,345.9 358.5,345.8"/>
<polygon class="B" points="100.4,389.0 96.2,377.9 88.9,381.7 92.0,390.6 98.9,390.4"/>
<polygon class="L" points="53.8,506.8 50.0,500.6 50.0,513.3 51.0,515.7"/>
<polygon class="G" points="162.0,526.9 157.1,531.8 157.6,536.0 164.9,541.0 166.6,539.8 169.9,528.5"/>
<polygon class="L" points="364.3,396.2 360.6,397.0 356.8,406.2 359.9,408.3 366.9,406.0 367.0,398.5"/>
<polygon class="B" points="140.4,398.0 134.3,399.7 134.4,403.5 140.0,407.0 142.8,403.8"/>
<polygon class="G" points="388.9,338.2 382.5,336.7 378.7,346.6 382.6,349.0 389.6,347.0 391.2,343.1"/>
<polygon class="B" points="418.0,579.0 412.0,580.8 418.9,581.9 418.1,579.0"/>
<polygon class="O" points="280.5,368.9 281.6,368.7 282.9,367.4 282.4,356.5 277.2,355.1 277.2,355.1 273.8,365.3"/>
<polygon class="B" points="189.4,477.3 195.5,478.9 197.2,477.1 195.6,469.3 195.2,469.2 189.6,473.5"/>
<polygon class="O" points="235.5,431.3 232.5,424.6 230.6,424.1 219.9,426.6 219.4,428.1 220.6,433.8 227.0,438.4"/>
<polygon class="L" points="362.0,479.7 365.6,480.3 371.7,477.1 370.2,466.6 360.9,463.7 356.1,467.0 355.4,469.5"/>
<polygon class="G" points="196.3,599.2 195.8,596.7 190.0,590.0 189.2,587.3 186.5,587.5 183.4,594.7 186.9,603.0"/>
<polygon class="G" points="119.2,335.3 120.5,341.6 122.1,335.7 121.0,332.8"/>
<polygon class="O" points="120.9,343.8 124.2,345.5 126.1,344.2 120.9,343.4"/>
<polygon class="B" points="232.5,497.6 226.0,493.2 225.1,493.8 224.8,502.5 225.2,502.9 232.4,500.7"/>
<polygon class="Y" points="109.0,472.0 118.5,482.1 123.0,479.7 122.4,470.5 111.8,469.8"/>
<polygon class="L" points="219.2,501.7 216.1,498.2 211.3,500.7 209.8,504.2 214.3,511.4 215.2,510.8"/>
<polygon class="G" points="189.2,179.9 182.2,191.5 188.0,203.8 206.6,196.5 206.9,196.1 197.9,180.4"/>
<polygon class="L" points="320.9,513.0 331.7,517.9 336.1,517.1 339.5,508.1 337.8,504.2 324.2,502.7"/>
<polygon class="O" points="123.8,459.1 123.3,460.3 125.3,467.2 132.8,468.9 136.2,459.5 127.7,456.6"/>
<polygon class="Y" points="94.1,530.7 103.4,531.3 108.4,526.8 99.6,515.2 92.7,517.0 90.9,521.3"/>
<polygon class="B" points="153.8,385.9 150.5,378.4 146.7,383.0 147.7,387.2"/>
<polygon class="G" points="399.2,176.8 412.6,185.0 415.5,181.2 412.2,176.7 399.8,173.5"/>
<polygon class="G" points="316.7,336.5 306.3,342.5 309.5,349.8 319.8,347.2 320.3,340.2"/>
<polygon class="G" points="169.7,627.9 175.2,628.5 181.5,620.5 176.9,611.0 171.5,610.0 171.2,610.2 168.1,619.3 170.0,621.7 169.4,627.5"/>
<polygon class="O" points="268.2,372.1 271.7,365.7 267.2,362.1 261.6,365.1 261.7,369.8 267.4,372.3"/>
<polygon class="Y" points="118.0,513.5 128.8,515.8 132.9,513.0 132.7,510.6 126.4,503.5 120.2,503.4 118.3,505.2"/>
<polygon class="L" points="441.0,471.5 440.0,468.8 442.4,460.3 442.4,459.5 442.1,458.7 438.7,457.4 433.9,458.7 428.5,467.4 435.7,474.0"/>
<polygon class="O" points="282.9,367.4 287.9,366.3 291.1,359.5 285.4,355.5 282.4,356.5"/>
<polygon class="G" points="401.8,362.5 405.3,356.8 401.4,352.4 392.9,353.0 390.4,357.4 397.7,363.8"/>
<polygon class="G" points="343.6,301.8 342.5,292.9 335.9,288.6 330.4,292.3 329.7,299.5 337.6,304.9"/>
<polygon class="G" points="74.9,531.1 63.6,530.3 60.3,533.6 66.7,540.0 72.5,542.3"/>
<polygon class="Y" points="195.8,561.4 198.3,555.0 199.5,549.1 191.1,553.0 193.2,561.1"/>
<polygon class="Y" points="347.5,472.9 346.9,483.2 354.5,486.3 362.0,479.7 355.4,469.5"/>
<polygon class="B" points="151.8,442.0 152.2,433.7 151.2,432.5 144.7,434.9 143.6,442.1"/>
<polygon class="G" points="392.5,334.1 390.8,324.2 381.2,327.0 380.1,333.5 382.5,336.7 388.9,338.2"/>
<polygon class="G" points="328.5,188.6 334.6,170.6 322.5,171.5 325.5,188.4"/>
<polygon class="G" points="334.8,209.0 333.7,212.8 341.1,223.3 341.9,228.7 351.0,226.6 354.7,212.1"/>
<polygon class="B" points="161.7,438.5 160.0,434.6 152.2,433.7 151.8,442.0 154.5,444.7"/>
<polygon class="O" points="358.0,331.8 350.8,329.0 346.3,336.1 349.2,342.5 356.6,343.5"/>
<polygon class="G" points="328.8,252.5 335.0,245.2 325.6,244.4 323.3,236.7 318.5,232.9 317.1,236.6 324.2,252.4"/>
<polygon class="O" points="124.2,345.5 124.6,347.5 132.1,353.4 134.2,352.8 135.2,346.8 129.7,344.7 126.1,344.2"/>
<polygon class="Y" points="379.4,518.3 380.3,507.8 376.1,504.8 365.3,508.2 365.6,512.2 376.9,520.7"/>
<polygon class="L" points="99.9,446.5 100.0,446.7 106.7,453.3 103.5,456.5 109.4,455.6 111.4,452.9 110.3,442.7 104.8,440.4"/>
<polygon class="Y" points="325.8,460.6 323.3,465.5 328.9,479.1 331.9,478.2 339.2,469.6 338.2,464.1"/>
<polygon class="O" points="294.0,423.8 288.2,423.8 285.2,426.5 284.7,434.7 292.8,439.3 297.4,427.6"/>
<polygon class="G" points="135.0,577.0 140.7,573.9 141.2,567.2 130.6,560.4 127.0,564.4 128.3,565.0 127.5,571.6"/>
<polygon class="G" points="527.8,567.0 534.1,567.6 537.7,564.0 534.5,553.1 524.2,559.4"/>
<polygon class="O" points="266.5,435.5 272.8,432.5 273.4,426.3 269.7,424.1 262.6,425.5 260.3,429.7"/>
<polygon class="O" points="346.8,321.5 338.8,321.7 333.1,327.0 333.2,327.9 338.7,336.9 346.3,336.1 350.8,329.0"/>
<polygon class="Y" points="144.5,347.8 146.8,347.4 148.7,340.8 145.3,336.6 145.7,337.8 142.2,344.7 140.2,345.3"/>
<polygon class="B" points="251.7,383.4 254.9,388.0 260.4,387.2 260.7,379.8 259.1,378.9 252.3,381.4"/>
<polygon class="G" points="373.8,347.6 370.7,355.4 380.1,358.5 383.3,355.6 382.6,349.0 378.7,346.6"/>
<polygon class="O" points="304.2,386.0 299.6,392.1 301.6,397.9 307.0,396.4 308.7,390.3 304.2,386.0"/>
<polygon class="L" points="368.5,305.0 372.4,318.4 373.9,318.6 386.4,309.9 385.3,300.6 383.4,299.0 373.9,299.3"/>
<polygon class="L" points="291.1,533.4 283.2,534.7 280.1,538.2 282.0,544.0 284.0,536.7 291.6,533.8"/>
<polygon class="Y" points="458.2,485.0 459.0,484.0 455.0,480.0 451.8,480.8"/>
<polygon class="O" points="226.7,371.8 220.1,371.3 216.4,380.0 221.5,384.3 224.8,383.3 229.6,375.7"/>
<polygon class="Y" points="111.8,469.8 122.4,470.5 125.3,467.2 123.3,460.3 114.1,461.7"/>
<polygon class="L" points="454.2,535.5 445.5,527.9 439.6,540.6 445.0,545.7 452.7,544.6"/>
<polygon class="O" points="343.1,485.0 331.9,478.2 328.9,479.1 327.9,480.2 330.8,491.3 340.1,495.3"/>
<polygon class="O" points="255.8,406.3 258.8,404.1 258.2,396.4 252.8,393.7 249.0,395.1 248.9,403.2"/>
<polygon class="B" points="232.1,515.4 234.4,518.1 239.5,517.9 241.4,512.8 240.2,510.8 234.6,511.6"/>
<polygon class="O" points="397.4,452.4 395.4,456.9 398.8,463.7 407.7,466.2 410.2,465.2 412.3,448.4 409.7,445.1"/>
<polygon class="O" points="139.2,426.3 137.7,420.2 132.0,418.5 128.6,427.4 131.5,429.3"/>
<polygon class="L" points="365.1,391.7 364.3,396.2 367.0,398.5 371.8,397.6 374.6,391.3 370.3,388.6"/>
<polygon class="L" points="150.1,328.9 145.0,321.8 139.4,322.8 138.8,324.1 139.4,326.7 143.6,330.8 144.6,334.3"/>
<polygon class="Y" points="356.1,467.0 346.6,455.8 342.7,457.3 338.2,464.1 339.2,469.6 347.5,472.9 355.4,469.5"/>
<polygon class="G" points="375.2,222.7 390.3,233.4 400.3,221.5 386.5,206.6 382.1,207.0"/>
<polygon class="L" points="376.2,525.3 378.7,530.4 385.3,534.1 391.8,529.8 394.1,519.7 392.7,518.3 379.4,518.3 376.9,520.7"/>
<polygon class="Y" points="242.0,355.4 251.6,358.1 254.1,350.2 250.4,343.9 247.8,344.5 241.8,351.0"/>
<polygon class="L" points="367.4,540.4 378.7,530.4 376.2,525.3 363.6,526.7 363.7,539.8 364.5,540.6"/>
<polygon class="B" points="177.5,452.2 176.1,450.5 175.4,450.3 168.0,457.2 168.0,462.1 168.5,462.4 176.3,462.0"/>
<polygon class="B" points="354.4,430.7 354.2,423.5 346.2,421.6 342.6,424.3 343.6,430.4 350.3,434.1"/>
<polygon class="B" points="206.8,414.7 207.0,411.5 198.2,407.7 195.5,408.6 194.2,410.1 194.4,414.5 199.2,419.2"/>
<polygon class="L" points="252.2,492.7 257.3,504.2 262.3,505.1 263.4,504.4 266.7,491.6 262.5,487.8"/>
<polygon class="L" points="520.1,572.9 523.1,572.7 527.8,567.0 524.2,559.4 519.0,557.6 511.6,563.8 511.4,564.5"/>
<polygon class="Y" points="327.6,351.9 328.7,359.7 331.6,362.0 338.2,357.3 337.3,351.8 331.2,349.7"/>
<polygon class="B" points="270.8,392.5 269.2,386.5 262.2,388.7 262.2,393.9 266.9,396.3"/>
<polygon class="L" points="435.8,522.1 442.5,510.5 432.6,505.4 427.4,513.2 434.2,522.4"/>
<polygon class="B" points="148.6,417.7 147.3,418.8 147.5,425.5 151.1,428.2 155.1,425.7 155.1,417.9"/>
<polygon class="G" points="248.6,424.9 258.1,430.4 260.3,429.7 262.6,425.5 259.1,416.6 258.9,416.5 248.5,423.9"/>
<polygon class="G" points="282.9,269.6 279.5,259.8 273.7,258.3 270.1,272.4 272.4,276.0 275.5,276.1"/>
<polygon class="L" points="62.8,475.2 58.4,469.8 46.7,473.3 46.2,474.8 46.4,480.8 46.5,480.9 57.4,483.1 62.6,478.9"/>
<polygon class="G" points="409.8,259.3 397.3,263.0 395.4,267.4 399.1,275.3 404.8,276.4 405.6,274.4 413.6,262.3"/>
<polygon class="B" points="176.6,470.7 181.6,471.3 184.4,469.3 185.3,466.1 182.6,462.8 177.1,462.7"/>
<polygon class="Y" points="174.2,356.7 178.4,354.0 178.7,346.3 178.0,345.4 169.7,343.5 166.8,347.7 166.8,348.1 172.6,356.3"/>
<polygon class="L" points="264.1,514.5 262.3,505.1 257.3,504.2 252.6,507.4 252.5,507.7 254.4,515.4 263.1,515.6"/>
<polygon class="L" points="327.4,373.7 334.5,378.1 338.8,373.2 336.1,367.3 332.5,365.9 327.5,372.1"/>
<polygon class="G" points="336.1,162.9 335.8,169.6 352.8,179.7 359.6,176.7 357.5,156.4 354.1,153.8"/>
<polygon class="G" points="219.5,327.5 219.7,317.0 212.4,314.9 210.9,315.8 208.6,322.4 214.0,330.1"/>
<polygon class="Y" points="197.3,295.7 197.4,293.9 190.2,284.0 185.3,286.0 183.5,296.5"/>
<polygon class="O" points="458.8,523.9 450.3,523.0 445.4,527.3 445.5,527.9 454.2,535.5 462.3,530.5"/>
<polygon class="G" points="208.7,274.2 207.0,273.7 200.2,278.8 203.0,287.1 213.8,288.3 215.3,286.6 215.5,285.2"/>
<polygon class="G" points="217.5,300.8 212.9,294.3 203.0,299.6 204.4,303.7 213.2,307.3 217.2,303.8"/>
<polygon class="Y" points="202.1,463.6 205.6,462.6 206.7,458.1 202.0,451.0 194.0,457.3"/>
<polygon class="Y" points="106.5,431.1 98.4,424.9 93.0,425.4 93.1,434.4 104.1,438.3"/>
<polygon class="G" points="372.8,223.1 375.2,222.7 382.1,207.0 372.3,199.4 358.5,205.4 355.7,211.5"/>
<polygon class="O" points="161.8,564.6 160.0,555.5 154.2,551.9 148.3,561.7 157.0,566.8"/>
<polygon class="B" points="147.3,390.7 150.0,392.8 153.2,392.4 156.2,387.1 153.8,385.9 147.7,387.2 146.9,388.6"/>
<polygon class="L" points="182.7,521.2 176.8,529.0 180.5,535.3 187.3,535.3 188.5,526.1 182.8,521.2"/>
<polygon class="G" points="179.6,243.0 178.8,245.0 178.7,245.4 178.6,245.5 175.0,254.4 189.3,258.0 196.6,251.7 196.5,247.1 195.0,245.3"/>
<polygon class="Y" points="145.0,537.9 148.9,541.0 157.6,536.0 157.1,531.8 150.0,527.1 147.7,528.2"/>
<polygon class="B" points="210.4,491.4 213.1,490.4 213.2,490.2 212.2,486.9 205.8,483.1 205.1,483.3 204.3,489.3"/>
<polygon class="L" points="203.1,265.2 189.1,269.5 188.7,270.2 193.1,278.3 200.2,278.8 207.0,273.7"/>
<polygon class="L" points="493.7,516.3 490.6,515.3 480.0,521.5 482.7,529.6 490.1,531.2 495.2,518.5"/>
<polygon class="Y" points="227.1,278.2 232.4,272.7 227.4,263.2 219.8,263.8 218.2,268.5 224.2,278.0"/>
<polygon class="B" points="285.2,382.4 283.5,382.9 280.3,386.0 280.2,392.6 285.5,395.8 289.6,395.4 292.2,391.0"/>
<polygon class="L" points="160.6,489.8 152.0,491.5 150.0,495.4 152.7,501.2 158.3,503.7 161.7,500.1"/>
<polygon class="Y" points="136.2,459.5 140.2,457.5 140.2,457.5 135.0,447.7 129.4,449.7 127.7,456.6"/>
<polygon class="O" points="302.0,362.2 296.9,361.7 295.1,368.6 302.4,372.1 304.0,369.9"/>
<polygon class="L" points="369.9,383.0 368.0,381.2 363.8,382.3 361.3,386.8 365.1,391.7 370.3,388.6"/>
<polygon class="G" points="185.3,286.0 176.4,281.7 172.3,293.9 173.6,295.3 183.0,296.9 183.5,296.5"/>
<polygon class="B" points="289.1,408.8 289.2,409.3 294.8,411.2 297.9,409.6 300.7,403.2 299.9,400.6 292.7,399.6"/>
<polygon class="L" points="193.2,561.1 185.7,569.4 186.1,570.8 189.7,572.3 190.0,571.7 195.0,563.3 195.8,561.4"/>
<polygon class="B" points="201.2,381.6 207.7,373.8 206.7,369.3 200.6,368.1 197.2,371.2 196.6,377.9"/>
<polygon class="G" points="186.8,206.3 188.0,203.8 182.2,191.5 179.7,191.2 181.6,195.8 179.5,210.4"/>
<polygon class="B" points="311.5,420.6 311.6,410.8 308.9,409.3 303.8,412.6 303.7,417.8 309.3,422.3"/>
<polygon class="B" points="245.8,385.7 244.8,388.5 246.9,393.8 249.0,395.1 252.8,393.7 254.9,388.0 251.7,383.4"/>
<polygon class="Y" points="222.0,400.9 223.4,396.8 220.4,392.8 210.6,393.4 209.2,401.5 210.9,404.1"/>
<polygon class="Y" points="332.3,429.9 330.5,430.2 326.4,436.8 328.5,444.2 331.3,445.7 337.9,441.5 337.6,434.1"/>
<polygon class="Y" points="440.7,488.1 443.0,494.5 445.0,495.9 453.3,496.1 458.8,487.3 458.2,485.0 451.8,480.8 447.8,481.8"/>
<polygon class="L" points="46.4,480.8 46.2,474.8 44.2,480.8"/>
<polygon class="G" points="420.4,415.1 427.6,422.0 427.5,420.0 426.8,409.3 427.4,407.5 420.5,410.6"/>
<polygon class="B" points="381.6,447.1 387.0,441.9 382.0,431.1 379.8,430.7 373.5,434.8 371.4,442.5"/>
<polygon class="B" points="270.4,401.7 275.7,399.3 277.0,394.5 270.8,392.5 266.9,396.3 267.5,400.0"/>
<polygon class="O" points="229.6,375.7 224.8,383.3 234.2,387.7 236.2,382.7 233.3,376.0"/>
<polygon class="L" points="369.9,356.0 365.2,354.8 357.0,359.7 357.6,365.2 366.2,364.8 369.6,360.3"/>
<polygon class="O" points="122.4,548.7 122.8,551.3 130.3,556.9 138.1,551.0 135.6,544.2 128.0,542.0"/>
<polygon class="G" points="157.3,327.6 156.9,328.5 159.3,335.2 168.1,337.6 171.2,333.8 169.4,324.7 166.2,323.0"/>
<polygon class="G" points="62.5,520.6 68.0,515.8 63.4,507.1 53.8,506.8 51.0,515.7 52.2,518.7"/>
<polygon class="B" points="260.7,379.8 264.0,379.1 267.4,372.3 261.7,369.8 257.4,372.4 259.1,378.9"/>
<polygon class="Y" points="264.1,514.5 274.3,518.1 279.0,504.9 263.4,504.4 262.3,505.1"/>
<polygon class="O" points="227.4,263.2 235.6,254.8 224.6,246.3 217.4,248.8 214.8,257.0 219.8,263.8"/>
<polygon class="Y" points="303.2,443.2 297.2,444.1 297.3,459.7 297.6,459.9 310.7,455.2 310.8,454.9"/>
<polygon class="G" points="291.6,533.8 293.5,533.1 298.2,527.2 305.3,527.2 306.3,527.7 302.8,522.7 293.7,524.2 291.1,533.4"/>
<polygon class="G" points="270.6,328.2 275.6,334.6 279.5,333.6 283.3,325.2 274.3,321.0"/>
<polygon class="Y" points="222.8,447.5 227.4,443.0 227.0,438.4 220.6,433.8 214.4,439.2 217.3,447.0"/>
<polygon class="Y" points="122.7,358.3 120.4,356.1 114.0,356.3 112.1,359.6 114.0,365.9 122.3,366.1"/>
<polygon class="O" points="258.3,522.2 261.5,520.1 263.1,515.6 254.4,515.4 253.4,517.1 254.7,521.0"/>
<polygon class="O" points="317.6,514.5 316.3,528.8 319.6,531.7 326.6,530.5 331.7,517.9 320.9,513.0"/>
<polygon class="B" points="156.0,396.4 153.2,392.4 150.0,392.8 148.5,398.6 152.8,400.8 155.5,398.8"/>
<polygon class="B" points="161.1,464.4 168.0,462.1 168.0,457.2 162.4,453.0 156.7,456.7"/>
<polygon class="L" points="199.2,312.7 192.0,309.9 188.5,314.5 190.5,323.4 198.7,320.4"/>
<polygon class="B" points="238.1,371.3 238.1,372.1 243.7,376.3 248.6,374.8 249.6,373.1 245.3,366.1 243.0,365.7"/>
<polygon class="B" points="322.4,413.4 322.4,413.1 317.0,409.1 311.6,410.8 311.5,420.6 318.5,420.4"/>
<polygon class="O" points="162.2,354.1 154.5,352.7 155.4,360.1 159.5,362.2 163.7,359.6"/>
<polygon class="G" points="412.6,185.0 413.3,191.5 424.6,193.8 415.5,181.2"/>
<polygon class="Y" points="468.0,575.3 468.6,572.4 458.3,559.8 457.2,560.4 452.8,569.7 455.9,574.3 459.6,575.4"/>
<polygon class="G" points="297.7,320.1 303.0,319.6 306.6,314.2 302.5,307.3 292.6,310.1"/>
<polygon class="G" points="71.4,317.5 79.8,314.8 81.8,311.5 78.8,307.0 73.6,305.2 73.1,305.6 70.0,309.3 67.9,312.4 66.8,313.7"/>
<polygon class="Y" points="262.1,455.1 258.6,456.8 260.3,469.6 270.1,470.3 272.5,467.8 267.0,456.9"/>
<polygon class="O" points="349.7,438.2 350.3,434.1 343.6,430.4 337.6,434.1 337.9,441.5 344.3,442.8"/>
<polygon class="Y" points="404.8,387.0 394.3,385.0 391.3,387.7 393.7,395.8 404.4,396.8 406.2,393.5"/>
<polygon class="G" points="172.2,256.5 172.3,260.6 182.1,270.8 188.7,270.2 189.1,269.5 189.3,258.0 175.0,254.4"/>
<polygon class="L" points="347.1,540.1 350.5,536.7 350.2,524.4 342.0,522.9 334.7,535.5 336.3,539.7"/>
<polygon class="L" points="198.8,496.9 207.3,496.4 210.4,491.4 204.3,489.3 200.4,492.4"/>
<polygon class="G" points="357.0,359.7 351.9,355.0 349.2,355.1 344.9,360.1 344.9,364.0 348.0,368.3 356.5,367.2 357.6,365.2"/>
<polygon class="B" points="96.4,377.6 95.5,371.0 91.4,367.4 84.0,374.0 87.7,381.5 88.9,381.7 96.2,377.9"/>
<polygon class="B" points="418.1,579.0 418.9,581.9 422.5,582.5 427.6,576.6"/>
<polygon class="L" points="300.8,488.7 291.9,489.2 291.6,489.5 294.9,501.7 305.9,503.7 306.1,503.3 303.7,490.9"/>
<polygon class="O" points="391.3,387.7 394.3,385.0 394.0,377.1 385.0,377.6 383.6,380.7 387.6,387.5"/>
<polygon class="G" points="161.8,593.9 154.6,602.6 156.8,606.3 160.0,606.7 161.7,610.2 171.2,610.2 171.5,610.0 168.6,594.4"/>
<polygon class="L" points="530.1,543.5 535.7,550.0 540.0,549.5 540.0,546.3 530.5,540.3"/>
<polygon class="L" points="149.8,289.7 146.6,290.2 142.4,301.4 145.1,304.7 151.9,303.2 155.1,296.1"/>
<polygon class="O" points="217.2,420.3 210.6,419.5 206.3,425.9 207.6,430.3 219.4,428.1 219.9,426.6"/>
<polygon class="B" points="248.0,517.7 246.1,513.8 241.4,512.8 239.5,517.9 240.7,520.3 246.3,522.1"/>
<polygon class="G" points="237.7,231.5 242.7,248.2 257.9,246.1 259.3,238.5 248.3,227.6"/>
<polygon class="L" points="171.2,474.5 167.9,475.4 162.2,483.9 162.9,486.4 173.7,490.0 174.3,489.8 178.2,485.3 177.9,483.1"/>
<polygon class="G" points="192.4,514.0 182.8,521.2 188.5,526.1 196.4,524.6 197.9,522.6"/>
<polygon class="B" points="92.0,390.6 87.5,395.5 91.5,401.5 100.0,398.2 98.9,390.4"/>
<polygon class="G" points="215.5,285.2 215.3,286.6 229.7,293.1 232.4,286.9 227.1,278.2 224.2,278.0"/>
<polygon class="B" points="127.2,406.7 130.0,407.3 134.4,403.5 134.3,399.7 132.4,397.5 124.3,399.8"/>
<polygon class="B" points="102.0,399.7 100.0,398.2 91.5,401.5 91.4,403.2 98.4,409.7 102.7,404.1"/>
<polygon class="Y" points="141.3,495.0 138.5,497.0 139.3,501.5 145.5,505.5 152.7,501.2 150.0,495.4"/>
<polygon class="G" points="282.2,311.0 278.7,305.7 270.0,305.9 267.4,314.7 273.6,318.0"/>
<polygon class="G" points="230.9,326.9 228.9,318.8 221.8,316.0 219.7,317.0 219.5,327.5 227.9,329.3"/>
<polygon class="L" points="127.5,539.8 120.0,534.2 116.6,534.7 113.4,543.9 122.4,548.7 128.0,542.0"/>
<polygon class="G" points="390.8,368.8 393.3,369.6 397.7,363.8 390.4,357.4 390.0,357.5 387.5,363.8"/>
<polygon class="B" points="289.6,395.4 292.7,399.6 299.9,400.6 301.6,397.9 299.6,392.1 292.9,390.7 292.2,391.0"/>
<polygon class="B" points="140.9,387.6 139.4,388.8 139.0,391.4 142.1,395.4 147.3,390.7 146.9,388.6"/>
<polygon class="Y" points="452.8,569.7 446.0,570.9 450.0,572.5 455.9,574.3"/>
<polygon class="G" points="294.7,215.2 303.9,223.7 312.2,222.8 312.2,212.2 303.3,204.4 296.8,206.2"/>
<polygon class="B" points="216.1,498.2 216.1,498.0 213.1,490.4 210.4,491.4 207.3,496.4 211.3,500.7"/>
<polygon class="L" points="485.6,576.1 482.1,580.0 487.5,580.0 494.1,577.4 492.1,575.6"/>
<polygon class="L" points="135.3,300.4 135.3,301.7 131.4,308.1 134.0,314.1 134.7,314.3 144.3,310.1 145.1,304.7 142.4,301.4"/>
<polygon class="O" points="204.1,473.9 208.2,473.2 210.9,467.8 205.6,462.6 202.1,463.6 198.7,468.1"/>
<polygon class="L" points="266.7,491.6 263.4,504.4 279.0,504.9 279.4,504.6 279.8,494.5 276.7,491.9"/>
<polygon class="L" points="375.3,565.9 370.9,563.9 375.7,567.2"/>
<polygon class="B" points="184.6,400.2 184.3,401.5 186.5,408.7 194.2,410.1 195.5,408.6 191.5,398.5"/>
<polygon class="Y" points="364.4,329.7 367.2,321.4 352.9,313.6 346.8,321.5 350.8,329.0 358.0,331.8"/>
<polygon class="L" points="285.9,324.1 283.3,325.2 279.5,333.6 286.9,338.0 290.8,336.6 294.3,329.5 293.4,326.4"/>
<polygon class="Y" points="316.1,453.3 319.4,446.4 314.3,439.9 305.3,440.9 303.2,443.2 310.8,454.9"/>
<polygon class="Y" points="239.5,256.8 240.3,272.7 241.3,273.5 250.6,267.9 251.0,261.8"/>
<polygon class="Y" points="167.9,475.4 159.0,468.8 154.6,479.3 162.2,483.9"/>
<polygon class="L" points="99.6,515.2 108.4,526.8 109.3,526.8 114.7,521.6 116.1,515.3 103.0,510.1"/>
<polygon class="O" points="255.8,411.4 255.8,406.3 248.9,403.2 244.8,405.4 244.8,411.5 247.5,414.0"/>
<polygon class="Y" points="382.2,395.2 386.0,399.0 392.4,397.5 393.7,395.8 391.3,387.7 387.6,387.5 381.6,391.9"/>
<polygon class="G" points="277.1,424.5 273.4,426.3 272.8,432.5 279.2,437.7 284.7,434.7 285.2,426.5"/>
<polygon class="Y" points="317.9,482.3 315.7,488.3 318.4,496.4 322.9,499.1 330.8,491.3 327.9,480.2"/>
<polygon class="L" points="235.5,480.9 235.6,485.9 239.1,490.5 244.4,493.2 248.9,491.7 249.3,481.0 242.6,477.4"/>
<polygon class="G" points="395.7,282.2 399.1,275.3 395.4,267.4 382.8,268.2 379.3,281.1 383.9,285.5"/>
<polygon class="G" points="93.0,296.1 91.2,297.0 90.8,304.4 97.9,311.4 99.5,311.1 103.1,307.4 101.9,305.8 96.4,303.0 97.6,299.4"/>
<polygon class="O" points="110.3,442.7 111.4,452.9 118.7,451.8 121.5,445.7 114.9,441.3"/>
<polygon class="L" points="339.5,508.1 350.6,508.3 353.4,505.7 351.6,496.8 340.1,495.3 337.8,504.2"/>
<polygon class="Y" points="383.4,299.0 383.9,285.5 379.3,281.1 368.7,282.4 366.6,288.0 373.9,299.3"/>
<polygon class="G" points="327.5,372.1 332.5,365.9 331.6,362.0 328.7,359.7 321.0,362.2 321.1,366.8"/>
<polygon class="L" points="64.0,346.0 61.4,354.6 62.0,355.6 68.0,358.4 75.7,351.6 74.8,349.4"/>
<polygon class="O" points="160.2,417.6 162.1,411.9 156.4,409.0 155.0,410.6 155.3,417.7"/>
<polygon class="G" points="62.0,355.6 61.4,354.6 53.7,353.5 53.3,356.2 58.1,364.1"/>
<polygon class="Y" points="458.8,487.3 453.3,496.1 457.9,503.5 467.2,502.5 469.4,499.1 467.0,491.7 465.0,490.0 464.5,489.5"/>
<polygon class="B" points="234.2,387.7 234.4,388.3 235.3,388.8 244.8,388.5 245.8,385.7 242.5,380.8 236.2,382.7"/>
<polygon class="L" points="363.6,526.7 358.8,522.4 352.5,522.8 350.2,524.4 350.5,536.7 363.7,539.8"/>
<polygon class="Y" points="236.2,447.4 235.9,453.1 244.6,462.3 252.1,456.1 247.9,444.1 241.0,444.0"/>
<polygon class="O" points="216.4,364.8 217.4,353.8 213.8,349.9 206.5,356.5 210.9,365.2"/>
<polygon class="Y" points="306.4,358.1 307.1,354.8 297.4,351.4 294.4,359.2 296.9,361.7 302.0,362.2"/>
<polygon class="L" points="252.6,507.4 257.3,504.2 252.2,492.7 248.9,491.7 244.4,493.2 243.4,498.5 244.8,503.9"/>
<polygon class="L" points="557.4,573.6 570.0,572.5 568.8,568.8 560.8,565.1"/>
<polygon class="B" points="250.5,525.1 253.1,529.0 258.4,526.4 258.3,522.2 254.7,521.0"/>
<polygon class="Y" points="419.2,466.9 410.2,465.2 407.7,466.2 406.8,478.9 417.5,480.9 420.6,477.4 420.4,468.0"/>
<polygon class="L" points="285.6,472.7 286.4,474.7 288.9,476.4 299.1,473.2 301.2,467.8 297.6,459.9 297.3,459.7 292.2,460.4"/>
<polygon class="B" points="164.0,405.3 167.1,404.0 167.9,399.4 163.5,397.9 160.5,401.3 161.0,403.7"/>
<polygon class="G" points="398.7,334.4 402.6,341.9 404.3,341.5 404.3,329.0 403.3,326.4"/>
<polygon class="G" points="278.7,305.7 279.8,300.6 273.1,292.1 272.3,291.9 267.0,301.9 270.0,305.9"/>
<polygon class="G" points="227.9,338.0 234.8,341.0 238.5,339.0 241.2,330.2 237.1,326.8 230.9,326.9 227.9,329.3"/>
<polygon class="B" points="373.5,434.8 379.8,430.7 376.3,421.0 366.4,423.4 366.4,429.1"/>
<polygon class="B" points="130.9,417.0 132.2,412.7 130.0,407.3 127.2,406.7 121.8,410.8 124.4,416.5"/>
<polygon class="L" points="224.4,533.7 229.7,539.0 235.6,534.1 236.5,532.2 234.9,530.6"/>
<polygon class="B" points="260.4,387.2 262.2,388.7 269.2,386.5 270.5,384.0 264.0,379.1 260.7,379.8"/>
<polygon class="L" points="279.7,241.5 277.6,232.6 272.3,231.4 259.3,238.5 257.9,246.1 262.0,253.5 270.8,255.0"/>
<polygon class="B" points="243.7,376.3 242.5,380.8 245.8,385.7 251.7,383.4 252.3,381.4 248.6,374.8"/>
<polygon class="G" points="179.6,323.2 178.0,321.5 169.4,324.7 171.2,333.8 179.9,333.1"/>
<polygon class="Y" points="214.4,439.2 220.6,433.8 219.4,428.1 207.6,430.3 207.5,430.5 210.3,438.5"/>
<polygon class="G" points="318.8,298.3 325.1,301.7 329.7,299.5 330.4,292.3 319.3,289.9 317.2,291.9 317.0,293.0"/>
<polygon class="Y" points="282.9,403.3 285.5,395.8 280.2,392.6 277.0,394.5 275.7,399.3 279.3,404.0"/>
<polygon class="O" points="403.2,423.6 393.2,430.8 394.7,438.4 404.2,438.5"/>
<polygon class="B" points="347.1,406.8 342.4,397.9 341.4,397.5 336.3,402.3 340.1,408.7"/>
<polygon class="G" points="362.6,272.8 366.3,264.9 352.1,252.2 345.5,260.6 348.8,274.0 350.6,275.1"/>
<polygon class="B" points="393.7,395.8 392.4,397.5 394.5,407.4 402.9,408.0 405.1,405.4 404.4,396.8"/>
<polygon class="B" points="171.1,374.3 166.0,371.9 162.5,376.7 164.3,379.9 169.6,381.1"/>
<polygon class="O" points="246.3,522.1 240.7,520.3 234.8,530.0 234.9,530.6 236.5,532.2 240.3,533.1 247.1,524.0"/>
<polygon class="G" points="265.3,217.9 272.3,231.4 277.6,232.6 282.1,229.3 285.2,218.8 278.5,210.5 271.8,211.3"/>
<polygon class="G" points="307.4,278.6 313.8,275.5 310.0,262.2 301.1,268.5 301.1,274.0"/>
<polygon class="L" points="304.2,386.0 308.7,390.3 313.1,389.9 315.5,386.7 314.0,381.9 308.8,379.5 307.7,379.6"/>
<polygon class="Y" points="403.8,481.8 396.4,479.4 390.3,483.2 393.5,494.5 404.5,488.6"/>
<polygon class="Y" points="364.4,329.7 358.0,331.8 356.6,343.5 358.5,345.8 358.8,345.9 369.0,341.8 369.6,335.7"/>
<polygon class="L" points="277.1,424.5 277.4,416.4 272.7,415.2 269.4,417.5 269.7,424.1 273.4,426.3"/>
<polygon class="G" points="219.5,327.5 214.0,330.1 213.6,330.9 216.6,342.2 222.9,342.0 227.9,338.0 227.9,329.3"/>
<polygon class="Y" points="362.7,547.4 369.9,556.4 380.7,548.5 367.4,540.4 364.5,540.6"/>
<polygon class="G" points="197.9,180.4 206.9,196.1 208.3,195.8 216.3,188.1 215.6,171.0 214.8,171.0 205.6,177.8 202.4,174.2"/>
<polygon class="Y" points="122.8,551.3 122.4,548.7 113.4,543.9 106.3,546.1 106.7,547.0 108.3,546.7 115.0,555.0 116.3,558.3"/>
<polygon class="B" points="176.5,438.2 174.0,439.9 172.9,447.1 175.4,450.3 176.1,450.5 184.6,443.2 184.7,440.0"/>
<polygon class="O" points="85.7,341.4 87.1,338.4 78.7,329.6 72.5,336.4 77.0,343.0"/>
<polygon class="O" points="267.5,400.0 266.9,396.3 262.2,393.9 258.2,396.4 258.8,404.1 261.3,404.2"/>
<polygon class="L" points="243.4,498.5 244.4,493.2 239.1,490.5 232.5,497.6 232.4,500.7 234.5,502.7"/>
<polygon class="O" points="339.2,469.6 331.9,478.2 343.1,485.0 346.9,483.2 347.5,472.9"/>
<polygon class="O" points="131.4,362.6 129.3,358.4 122.7,358.3 122.3,366.1 124.6,368.7 125.5,368.9 130.4,365.7"/>
<polygon class="L" points="173.6,295.3 172.0,304.4 177.2,309.8 183.9,303.4 183.0,296.9"/>
<polygon class="L" points="433.9,458.7 423.7,452.8 419.2,466.9 420.4,468.0 428.5,467.4"/>
<polygon class="O" points="143.6,442.1 144.7,434.9 141.0,432.2 133.8,437.9 137.3,443.3 142.0,443.2"/>
<polygon class="O" points="100.4,324.2 105.7,319.9 99.5,311.1 97.9,311.4 92.5,317.1 92.6,320.1"/>
<polygon class="L" points="432.6,505.4 431.5,501.2 428.1,499.0 419.0,502.4 418.8,512.3 427.4,513.2"/>
<polygon class="L" points="88.4,537.9 94.1,530.7 90.9,521.3 77.9,525.1 76.9,529.7"/>
<polygon class="L" points="375.3,565.9 385.2,559.9 385.5,555.2 380.9,548.5 380.7,548.5 369.9,556.4 369.0,562.6 369.0,562.6 370.9,563.9"/>
<polygon class="B" points="90.7,364.5 100.3,358.0 100.0,355.1 94.3,350.2 88.4,350.9 87.2,352.3 89.2,363.2"/>
<polygon class="G" points="411.8,496.3 419.0,502.4 428.1,499.0 427.4,490.7 417.9,488.6 411.7,494.8"/>
<polygon class="G" points="245.3,316.6 247.8,311.4 244.2,305.9 239.8,305.5 235.4,312.4 240.6,317.4"/>
<polygon class="B" points="175.5,372.4 174.6,365.9 168.0,365.3 165.2,369.9 166.0,371.9 171.1,374.3"/>
<polygon class="O" points="232.5,424.6 237.4,418.9 237.3,415.2 236.3,413.9 225.3,412.4 230.6,424.1"/>
<polygon class="L" points="480.0,521.5 490.6,515.3 485.2,506.8 484.0,505.8 472.2,512.8 471.6,515.4 473.6,519.1"/>
<polygon class="B" points="155.1,417.9 155.1,425.7 161.7,426.7 164.4,421.7 160.2,417.6 155.3,417.7"/>
<polygon class="L" points="225.6,508.8 215.2,510.8 214.3,511.4 214.0,512.6 216.2,516.6 225.1,518.2 227.0,515.5"/>
<polygon class="G" points="431.0,381.4 423.3,383.7 421.9,392.2 431.4,398.4 436.2,390.4 437.5,388.5"/>
<polygon class="G" points="169.4,566.6 161.8,564.6 157.0,566.8 154.8,574.4 159.6,579.5 168.1,577.8"/>
<polygon class="B" points="186.7,369.6 187.0,368.9 186.7,365.6 185.1,363.7 175.8,364.1 174.6,365.9 175.5,372.4 177.2,373.3"/>
<polygon class="G" points="372.8,223.1 355.7,211.5 354.7,212.1 351.0,226.6 359.8,239.9 361.7,239.7"/>
<polygon class="B" points="299.9,400.6 300.7,403.2 307.8,406.2 311.4,399.9 307.0,396.4 301.6,397.9"/>
<polygon class="G" points="262.6,425.5 269.7,424.1 269.4,417.5 263.7,415.0 259.1,416.6"/>
<polygon class="L" points="227.8,489.5 226.0,493.2 232.5,497.6 239.1,490.5 235.6,485.9"/>
<polygon class="O" points="390.8,409.3 394.5,407.4 392.4,397.5 386.0,399.0 385.1,404.1 388.4,408.5"/>
<polygon class="O" points="85.0,409.7 91.4,403.2 91.5,401.5 87.5,395.5 85.3,395.2 78.0,400.1 78.3,404.0 79.1,406.1"/>
<polygon class="O" points="249.0,395.1 246.9,393.8 239.4,396.9 238.5,399.0 241.4,404.3 244.8,405.4 248.9,403.2"/>
<polygon class="L" points="243.0,365.7 245.3,366.1 252.8,360.6 251.6,358.1 242.0,355.4 239.3,358.7"/>
<polygon class="L" points="323.2,377.9 327.4,373.7 327.5,372.1 321.1,366.8 314.8,371.3 320.6,377.4"/>
<polygon class="G" points="296.6,287.9 292.0,278.5 291.5,278.3 283.3,282.2 282.3,288.0 287.9,292.8"/>
<polygon class="B" points="116.2,392.3 115.5,391.6 109.1,392.4 108.0,397.3 112.3,401.8 115.3,401.7"/>
<polygon class="O" points="299.6,392.1 304.2,386.0 296.7,382.9 292.9,390.7"/>
<polygon class="B" points="185.8,549.9 191.4,538.3 187.3,535.3 180.5,535.3 177.5,540.2 179.9,548.4 183.3,550.3"/>
<polygon class="L" points="139.3,525.0 134.2,529.9 140.8,538.0 145.0,537.9 147.7,528.2"/>
<polygon class="O" points="128.1,481.2 131.3,486.5 142.2,482.8 136.8,472.7 135.6,472.5"/>
<polygon class="L" points="493.9,516.0 492.5,515.0 487.5,508.8 485.2,506.8 490.6,515.3 493.7,516.3"/>
<polygon class="O" points="155.0,410.6 148.6,411.0 148.6,417.7 155.1,417.9 155.3,417.7"/>
<polygon class="B" points="182.6,462.8 185.0,455.2 177.5,452.2 176.3,462.0 177.1,462.7"/>
<polygon class="L" points="291.9,489.2 300.8,488.7 304.5,479.0 299.1,473.2 288.9,476.4"/>
<polygon class="B" points="346.2,421.6 345.6,415.9 338.0,413.6 335.8,414.8 334.4,418.1 336.5,422.4 342.6,424.3"/>
<polygon class="B" points="308.9,409.3 311.6,410.8 317.0,409.1 317.9,402.2 315.6,399.5 311.4,399.9 307.8,406.2"/>
<polygon class="Y" points="92.3,415.9 92.8,425.2 93.0,425.4 98.4,424.9 104.0,418.4 103.7,414.9 98.6,411.3"/>
<polygon class="G" points="265.3,328.2 263.2,326.2 254.8,326.4 255.5,338.4 261.5,338.6"/>
<polygon class="G" points="301.1,274.0 301.1,268.5 293.7,263.9 288.6,271.0 291.5,278.3 292.0,278.5"/>
<polygon class="Y" points="78.3,364.2 77.8,364.7 77.5,372.8 84.0,374.0 91.4,367.4 90.7,364.5 89.2,363.2"/>
<polygon class="L" points="139.2,516.5 139.3,525.0 147.7,528.2 150.0,527.1 152.1,520.3 149.5,515.4 146.0,514.1"/>
<polygon class="B" points="172.1,429.5 176.8,431.0 178.5,430.1 179.9,423.3 178.1,420.9 175.5,420.2 171.0,422.0"/>
<polygon class="L" points="170.1,520.3 163.8,516.2 159.9,520.8 162.0,526.9 169.9,528.5 170.3,528.2"/>
<polygon class="Y" points="245.0,429.8 250.4,440.9 253.3,439.9 258.1,430.4 248.6,424.9"/>
<polygon class="B" points="118.2,375.7 111.6,371.8 109.8,372.5 106.8,378.0 108.2,382.4 116.7,384.2 116.7,384.1 119.1,378.1"/>
<polygon class="L" points="345.5,260.6 352.1,252.2 352.2,247.9 340.2,243.3 338.9,245.6 335.0,245.2 328.8,252.5 335.2,260.4"/>
<polygon class="Y" points="467.7,577.4 473.0,578.5 468.3,576.0"/>
<polygon class="L" points="534.1,567.6 527.8,567.0 523.1,572.7 524.7,574.9 532.5,572.5 535.6,572.7"/>
<polygon class="L" points="422.2,537.1 416.5,532.9 411.3,535.0 411.9,547.1 417.4,550.1 422.7,546.0"/>
<polygon class="B" points="115.3,401.7 112.3,401.8 108.5,406.0 109.5,411.6 113.7,412.9 118.3,409.7 117.0,402.8"/>
<polygon class="G" points="399.1,275.3 395.7,282.2 398.9,290.0 404.8,276.4"/>
<polygon class="B" points="171.5,407.1 167.1,404.0 164.0,405.3 163.9,411.1 168.3,412.6 170.6,411.1"/>
<polygon class="B" points="285.5,395.8 282.9,403.3 289.1,408.8 292.7,399.6 289.6,395.4"/>
<polygon class="Y" points="486.7,545.8 477.9,540.4 470.9,544.2 471.4,554.8 473.1,555.8 482.7,554.6 486.9,548.8"/>
<polygon class="L" points="285.4,355.5 288.2,349.3 284.7,344.7 278.1,346.0 277.2,355.1 282.4,356.5"/>
<polygon class="G" points="447.7,344.3 445.6,344.3 440.8,344.7 437.9,356.3 447.2,360.9 454.3,350.8 453.3,346.1"/>
<polygon class="L" points="65.3,326.5 59.7,324.2 57.5,326.0 56.4,334.2 56.4,334.5 67.0,336.8 67.2,336.6"/>
<polygon class="G" points="324.2,252.4 317.1,236.6 304.6,244.5 306.3,253.6 311.4,258.4 317.6,257.6"/>
<polygon class="Y" points="433.4,484.2 440.7,488.1 447.8,481.8 445.0,482.5 441.0,471.5 435.7,474.0 432.9,482.3"/>
<polygon class="Y" points="254.4,515.4 252.5,507.7 246.1,513.8 248.0,517.7 253.4,517.1"/>
<polygon class="Y" points="240.2,510.8 241.4,512.8 246.1,513.8 252.5,507.7 252.6,507.4 244.8,503.9 240.4,508.9"/>
<polygon class="B" points="185.1,363.7 184.5,356.8 178.4,354.0 174.2,356.7 175.8,364.1"/>
<polygon class="Y" points="123.5,445.3 129.4,449.7 135.0,447.7 137.3,443.3 133.8,437.9 133.3,437.7 126.7,439.0"/>
<polygon class="O" points="344.3,442.8 337.9,441.5 331.3,445.7 331.8,448.2 342.7,457.3 346.6,455.8 347.9,453.5"/>
<polygon class="O" points="471.6,515.4 462.0,516.7 458.8,523.9 462.3,530.5 464.7,531.3 468.5,529.7 473.6,519.1"/>
<polygon class="Y" points="123.0,434.9 116.9,436.3 114.9,441.3 121.5,445.7 123.5,445.3 126.7,439.0"/>
<polygon class="G" points="302.5,307.3 305.2,301.8 304.9,300.2 301.4,296.8 291.7,301.7 291.7,309.6 292.6,310.1"/>
<polygon class="O" points="395.4,456.9 383.3,456.2 379.9,459.7 384.0,471.1 394.5,469.3 398.8,463.7"/>
<polygon class="B" points="166.0,371.9 165.2,369.9 159.1,368.0 157.4,369.3 157.2,376.2 162.5,376.7"/>
<polygon class="Y" points="113.4,543.9 116.6,534.7 109.3,526.8 108.4,526.8 103.4,531.3 104.6,545.6 106.3,546.1"/>
<polygon class="B" points="128.0,379.5 119.1,378.1 116.7,384.1 124.6,386.8 128.6,380.9"/>
<polygon class="L" points="353.9,393.3 357.4,387.4 353.3,381.5 346.6,385.3 346.3,386.6 353.2,393.5"/>
<polygon class="L" points="459.6,557.2 471.4,554.8 470.9,544.2 466.5,541.9 455.8,546.8"/>
<polygon class="B" points="231.9,508.2 225.7,508.7 225.6,508.8 227.0,515.5 232.1,515.4 234.6,511.6"/>
<polygon class="B" points="253.1,529.0 253.1,529.1 257.5,535.4 260.7,533.8 261.7,528.8 258.4,526.4"/>
<polygon class="Y" points="104.3,487.3 105.2,473.2 97.6,472.4 91.6,476.7 91.5,485.6 102.8,489.7"/>
<polygon class="Y" points="330.8,491.3 322.9,499.1 324.2,502.7 337.8,504.2 340.1,495.3 340.1,495.3"/>
<polygon class="O" points="130.3,556.9 130.6,560.4 141.2,567.2 145.5,562.4 139.9,551.5 138.1,551.0"/>
<polygon class="G" points="334.4,279.4 334.9,277.9 330.5,270.8 324.4,269.9 316.5,276.2 320.6,283.5"/>
<polygon class="B" points="130.0,407.3 132.2,412.7 140.5,410.3 140.0,407.0 134.4,403.5"/>
<polygon class="B" points="204.3,489.3 205.1,483.3 204.2,482.9 196.9,484.6 200.4,492.4"/>
<polygon class="O" points="215.1,479.6 212.2,486.9 213.2,490.2 218.2,488.7 221.5,483.6 221.2,478.3"/>
<polygon class="Y" points="354.1,379.1 346.3,373.2 345.1,374.1 343.6,380.9 346.6,385.3 353.3,381.5"/>
<polygon class="G" points="90.1,276.5 93.1,275.1 89.3,273.7"/>
<polygon class="O" points="232.6,399.8 232.3,405.7 236.1,407.9 241.4,404.3 238.5,399.0"/>
<polygon class="Y" points="222.8,447.5 217.3,447.0 214.0,449.5 213.5,455.3 219.3,460.2 225.5,458.7 225.5,458.7"/>
<polygon class="G" points="335.9,288.6 334.4,279.4 320.6,283.5 319.3,289.9 330.4,292.3"/>
<polygon class="Y" points="364.6,495.8 364.4,507.3 365.3,508.2 376.1,504.8 377.3,494.1 368.7,492.4"/>
<polygon class="O" points="93.1,434.4 91.6,436.1 99.9,446.5 104.8,440.4 104.1,438.3"/>
<polygon class="O" points="337.3,351.8 342.6,347.7 337.5,340.7 332.4,343.2 331.2,349.7"/>
<polygon class="B" points="262.2,388.7 260.4,387.2 254.9,388.0 252.8,393.7 258.2,396.4 262.2,393.9"/>
<polygon class="B" points="186.7,365.6 196.2,360.6 193.1,353.6 190.3,352.3 184.5,356.8 185.1,363.7"/>
<polygon class="Y" points="61.7,369.9 64.9,369.5 69.6,362.6 68.0,358.4 62.0,355.6 58.1,364.1 61.1,369.1"/>
<polygon class="B" points="122.7,393.7 116.2,392.3 115.3,401.7 117.0,402.8 124.2,399.8"/>
<polygon class="L" points="326.8,311.1 322.5,323.4 322.7,323.7 333.1,327.0 338.8,321.7 334.2,311.2"/>
<polygon class="B" points="168.4,388.9 159.3,386.2 159.2,386.2 158.7,386.6 160.3,394.0 162.6,395.0 168.8,389.7"/>
<polygon class="B" points="322.1,425.4 318.5,420.4 311.5,420.6 309.3,422.3 308.1,426.7 317.6,432.8"/>
<polygon class="L" points="369.0,341.8 358.8,345.9 365.2,354.8 369.9,356.0 370.7,355.4 373.8,347.6"/>
<polygon class="B" points="205.1,483.3 205.8,483.1 210.3,477.9 208.2,473.2 204.1,473.9 201.5,477.0 204.2,482.9"/>
<polygon class="B" points="322.4,413.1 322.4,413.4 329.8,418.6 334.4,418.1 335.8,414.8 330.2,407.9 327.7,407.8"/>
<polygon class="Y" points="258.1,430.4 253.3,439.9 264.3,444.3 265.4,443.4 266.5,435.5 260.3,429.7"/>
<polygon class="L" points="177.7,515.0 177.7,515.2 182.7,521.2 182.8,521.2 192.4,514.0 192.4,513.9 186.2,505.9"/>
<polygon class="O" points="376.3,420.8 376.3,421.0 379.8,430.7 382.0,431.1 386.6,428.8 388.8,419.9 382.2,417.7"/>
<polygon class="L" points="139.9,551.5 149.8,547.1 148.9,541.0 145.0,537.9 140.8,538.0 135.6,544.2 138.1,551.0"/>
<polygon class="O" points="84.0,374.0 77.5,372.8 73.4,376.5 72.9,380.1 75.7,384.8 79.9,385.7 87.7,381.5"/>
<polygon class="Y" points="103.7,414.9 104.0,418.4 111.9,423.6 114.9,419.8 113.7,412.9 109.5,411.6"/>
<polygon class="Y" points="432.5,569.3 428.2,562.2 423.2,561.8 416.7,573.7 418.0,579.0 418.1,579.0 427.6,576.6 430.0,573.8 430.4,573.4"/>
<polygon class="Y" points="325.8,460.6 331.8,448.2 331.3,445.7 328.5,444.2 319.4,446.4 316.1,453.3"/>
<polygon class="G" points="169.9,528.5 166.6,539.8 177.5,540.2 180.5,535.3 176.8,529.0 170.3,528.2"/>
<polygon class="L" points="162.3,284.5 171.2,278.8 165.7,269.7 160.3,270.4 155.0,279.6 155.6,281.7"/>
<polygon class="L" points="241.2,330.2 243.3,330.1 251.8,323.9 251.8,323.4 245.3,316.6 240.6,317.4 237.1,326.8"/>
<polygon class="G" points="317.0,320.6 313.9,313.1 306.6,314.2 303.0,319.6 308.2,325.2"/>
<polygon class="G" points="278.1,346.0 284.7,344.7 286.9,338.0 279.5,333.6 275.6,334.6 272.3,341.1"/>
<polygon class="G" points="156.2,339.4 158.1,345.5 166.8,347.7 169.7,343.5 168.1,337.6 159.3,335.2"/>
<polygon class="O" points="201.4,382.1 208.8,385.8 215.6,380.0 207.7,373.8 201.2,381.6"/>
<polygon class="O" points="343.6,430.4 342.6,424.3 336.5,422.4 332.3,429.9 337.6,434.1"/>
<polygon class="G" points="274.3,321.0 283.3,325.2 285.9,324.1 284.8,311.8 282.2,311.0 273.6,318.0"/>
<polygon class="O" points="172.2,508.9 163.5,512.0 163.8,516.2 170.1,520.3 177.7,515.2 177.7,515.0"/>
<polygon class="B" points="168.3,412.6 163.9,411.1 162.1,411.9 160.2,417.6 164.4,421.7 167.9,420.8"/>
<polygon class="B" points="162.6,395.0 163.5,397.9 167.9,399.4 171.3,397.3 169.1,389.9 168.8,389.7"/>
<polygon class="O" points="78.0,400.1 85.3,395.2 79.9,385.7 75.7,384.8 72.5,390.8 73.7,394.0 76.2,398.9"/>
<polygon class="O" points="285.5,382.1 295.8,381.1 296.4,378.4 291.7,373.8 287.2,375.7"/>
<polygon class="Y" points="124.6,368.7 122.3,366.1 114.0,365.9 111.6,371.8 118.2,375.7"/>
<polygon class="B" points="141.3,359.6 139.1,354.7 134.2,352.8 132.1,353.4 129.3,358.4 131.4,362.6 139.2,361.6"/>
<polygon class="Y" points="239.4,396.9 235.3,388.8 234.4,388.3 228.0,396.3 232.6,399.8 238.5,399.0"/>
<polygon class="O" points="342.4,397.9 351.2,396.2 353.2,393.5 346.3,386.6 340.1,391.5 339.8,392.6 341.4,397.5"/>
<polygon class="O" points="200.4,349.6 193.1,353.6 196.2,360.6 197.5,361.2 205.1,356.3"/>
<polygon class="Y" points="372.3,411.2 365.7,416.2 365.9,422.8 366.4,423.4 376.3,421.0 376.3,420.8"/>
<polygon class="L" points="519.0,557.6 517.7,547.4 504.8,548.2 502.7,552.0 511.6,563.8"/>
<polygon class="O" points="205.7,343.7 202.9,334.5 199.7,333.0 197.9,333.3 192.5,340.8 201.2,346.4"/>
<polygon class="B" points="191.5,398.5 195.5,408.6 198.2,407.7 201.9,400.9 198.5,395.6 192.5,397.2"/>
<polygon class="O" points="186.8,437.4 184.7,440.0 184.6,443.2 189.8,448.8 195.5,445.5 196.3,438.1"/>
<polygon class="G" points="115.1,320.0 112.1,314.9 111.8,320.5 112.1,320.8"/>
<polygon class="O" points="220.4,413.6 224.1,411.5 224.6,409.3 222.0,400.9 210.9,404.1 210.7,407.7"/>
<polygon class="G" points="169.9,551.6 169.0,551.1 160.0,555.5 161.8,564.6 169.4,566.6 172.5,564.6"/>
<polygon class="G" points="155.1,296.1 151.9,303.2 156.1,306.9 163.2,305.3 162.2,296.3"/>
<polygon class="B" points="139.4,379.1 134.1,373.7 129.2,375.5 128.0,379.5 128.6,380.9 132.9,383.1"/>
<polygon class="B" points="139.5,379.1 139.4,379.1 132.9,383.1 133.4,384.9 139.4,388.8 140.9,387.6 141.6,382.1"/>
<polygon class="Y" points="417.4,550.1 411.9,547.1 400.8,550.5 400.4,551.9 401.6,557.0 408.0,562.1 418.4,557.8"/>
<polygon class="Y" points="86.6,425.2 85.1,423.8 85.7,426.1"/>
<polygon class="B" points="189.6,473.5 195.2,469.2 190.9,464.3 185.3,466.1 184.4,469.3"/>
<polygon class="B" points="195.6,469.3 198.7,468.1 202.1,463.6 194.0,457.3 192.8,457.4 190.9,464.3 195.2,469.2"/>
<polygon class="L" points="104.1,494.9 119.1,493.6 119.8,492.7 117.8,483.5 104.3,487.3 102.8,489.7"/>
<polygon class="Y" points="202.0,451.0 206.7,458.1 213.5,455.3 214.0,449.5 206.2,446.8 202.0,451.0"/>
<polygon class="B" points="162.9,449.1 166.4,446.3 163.8,439.3 161.7,438.5 154.5,444.7 154.5,444.7"/>
<polygon class="L" points="334.1,543.3 327.9,545.6 326.7,549.0 328.9,550.8 337.8,552.6"/>
<polygon class="L" points="520.1,572.9 511.4,564.5 507.5,567.6 505.8,575.4 517.9,576.2"/>
<polygon class="Y" points="362.7,547.4 364.5,540.6 363.7,539.8 350.5,536.7 347.1,540.1 349.9,551.3 352.5,550.8 354.8,552.5"/>
<polygon class="Y" points="342.6,347.7 337.3,351.8 338.2,357.3 344.9,360.1 349.2,355.1 344.3,347.9"/>
<polygon class="L" points="203.3,521.9 206.1,515.1 200.4,508.7 192.4,513.9 192.4,514.0 197.9,522.6"/>
<polygon class="O" points="253.1,529.1 247.0,534.4 255.9,539.1 257.5,535.4"/>
<polygon class="B" points="148.6,411.0 148.2,410.6 140.5,410.4 141.3,417.2 147.3,418.8 148.6,417.7"/>
<polygon class="G" points="317.0,293.0 317.2,291.9 305.7,285.9 300.3,289.3 301.4,296.8 304.9,300.2"/>
<polygon class="G" points="386.5,206.6 394.8,196.7 389.1,183.7 373.7,189.8 372.3,199.4 382.1,207.0"/>
<polygon class="L" points="99.9,288.4 106.1,291.7 106.8,285.0 103.6,281.8"/>
<polygon class="Y" points="174.3,489.8 181.8,499.8 189.1,491.6 188.2,488.1 187.1,487.2 178.2,485.3"/>
<polygon class="B" points="280.3,386.0 283.5,382.9 277.6,375.0 273.5,376.4 271.6,383.5"/>
<polygon class="O" points="133.8,437.9 141.0,432.2 140.6,427.3 139.2,426.3 131.5,429.3 133.3,437.7"/>
<polygon class="B" points="212.2,486.9 215.1,479.6 210.3,477.9 205.8,483.1"/>
<polygon class="L" points="198.1,434.5 195.0,427.0 189.3,426.0 185.6,432.4 186.8,437.4 196.3,438.1 197.2,437.4"/>
<polygon class="G" points="346.3,373.2 348.0,368.3 344.9,364.0 336.1,367.3 338.8,373.2 345.1,374.1"/>
<polygon class="G" points="311.1,367.9 311.4,365.3 306.4,358.1 302.0,362.2 304.0,369.9"/>
<polygon class="L" points="130.6,492.0 119.8,492.7 119.1,493.6 120.2,503.4 126.4,503.5 132.1,494.3"/>
<polygon class="B" points="110.8,335.7 108.6,331.9 100.8,331.3 98.8,341.0 99.2,341.7 108.4,344.7"/>
<polygon class="O" points="249.6,373.1 254.0,371.1 253.8,361.3 252.8,360.6 245.3,366.1"/>
<polygon class="G" points="394.3,385.0 404.8,387.0 410.6,376.6 408.2,375.3 395.3,374.9 394.0,377.1"/>
<polygon class="G" points="196.5,247.1 210.2,242.0 211.0,233.2 199.4,224.3 195.4,227.8 195.0,245.3"/>
<polygon class="B" points="155.4,360.1 154.5,352.7 153.7,351.8 151.1,351.5 146.0,359.3 151.8,362.2"/>
<polygon class="L" points="302.8,522.7 306.2,512.2 290.8,513.0 289.8,518.1 293.7,524.2"/>
<polygon class="B" points="171.3,397.3 167.9,399.4 167.1,404.0 171.5,407.1 175.0,404.7 173.5,398.2"/>
<polygon class="G" points="73.6,305.2 78.8,307.0 83.8,295.1 82.8,294.1 80.1,293.8 79.7,297.5 73.5,305.0"/>
<polygon class="G" points="78.8,329.2 78.7,329.6 87.1,338.4 88.5,337.8 92.1,330.7 89.1,324.8 82.2,325.5"/>
<polygon class="L" points="381.4,480.7 378.6,493.2 392.1,497.7 393.5,494.5 390.3,483.2"/>
<polygon class="L" points="419.2,466.9 423.7,452.8 423.3,451.9 412.3,448.4 410.2,465.2"/>
<polygon class="O" points="91.4,403.2 85.0,409.7 85.5,411.8 92.3,415.9 98.6,411.3 98.4,409.7"/>
<polygon class="G" points="217.4,248.8 224.6,246.3 230.0,229.7 227.3,226.8 211.0,233.2 210.2,242.0"/>
<polygon class="B" points="270.8,392.5 277.0,394.5 280.2,392.6 280.3,386.0 271.6,383.5 270.5,384.0 269.2,386.5"/>
<polygon class="L" points="116.1,515.3 118.0,513.5 118.3,505.2 103.6,501.3 103.0,510.1"/>
<polygon class="L" points="98.8,341.0 88.5,337.8 87.1,338.4 85.7,341.4 88.4,350.9 94.3,350.2 99.2,341.7"/>
<polygon class="B" points="240.2,510.8 240.4,508.9 234.6,503.2 231.9,508.2 234.6,511.6"/>
<polygon class="L" points="306.1,503.3 318.4,496.4 315.7,488.3 303.7,490.9"/>
<polygon class="B" points="197.2,477.1 201.5,477.0 204.1,473.9 198.7,468.1 195.6,469.3"/>
<polygon class="B" points="266.8,536.1 267.5,534.3 270.9,537.7 271.3,537.8 270.1,531.9 265.1,527.1 261.7,528.8 260.7,533.8"/>
<polygon class="L" points="134.7,314.3 139.4,322.8 145.0,321.8 149.1,315.7 144.3,310.1"/>
<polygon class="L" points="382.4,412.2 382.2,417.7 388.8,419.9 391.1,418.5 390.8,409.3 388.4,408.5"/>
<polygon class="B" points="168.0,457.2 175.4,450.3 172.9,447.1 166.4,446.3 162.9,449.1 162.4,453.0"/>
<polygon class="Y" points="464.5,489.5 459.0,484.0 458.2,485.0 458.8,487.3"/>
<polygon class="G" points="251.0,261.8 250.6,267.9 257.3,273.2 261.6,270.4 260.2,256.4"/>
<polygon class="O" points="206.3,425.9 210.6,419.5 206.8,414.7 199.2,419.2 199.2,422.6"/>
<polygon class="B" points="189.9,379.6 196.6,377.9 197.2,371.2 187.0,368.9 186.7,369.6 188.2,379.0"/>
<polygon class="L" points="356.2,450.3 362.8,455.1 367.9,453.1 371.1,442.7 362.4,441.1 357.5,444.3"/>
<polygon class="G" points="411.9,245.0 409.8,259.3 413.6,262.3 414.4,261.1 413.3,252.2 416.7,242.2"/>
<polygon class="O" points="186.8,206.3 199.5,223.2 207.9,215.3 206.6,196.5 188.0,203.8"/>
<polygon class="B" points="183.4,415.2 178.1,420.9 179.9,423.3 188.2,424.3 188.6,419.1"/>
<polygon class="Y" points="165.7,360.3 172.6,356.3 166.8,348.1 162.2,354.1 163.7,359.6"/>
<polygon class="B" points="228.0,354.4 226.8,361.2 229.8,365.3 232.9,365.5 239.2,358.7"/>
<polygon class="G" points="296.8,233.1 282.1,229.3 277.6,232.6 279.7,241.5 288.8,247.4 299.3,241.4"/>
<polygon class="L" points="405.4,518.4 394.1,519.7 391.8,529.8 402.2,534.8 406.2,533.3"/>
<polygon class="L" points="265.1,527.1 270.1,531.9 275.7,520.5 274.8,519.5 265.5,525.4"/>
<polygon class="Y" points="382.4,412.2 388.4,408.5 385.1,404.1 376.9,405.2 375.3,408.2"/>
<polygon class="G" points="421.9,392.2 419.6,394.1 417.8,407.1 420.5,410.6 427.4,407.5 429.1,402.2 431.4,398.4"/>
<polygon class="L" points="88.9,464.5 83.3,471.9 91.6,476.7 97.6,472.4 94.6,465.4"/>
<polygon class="G" points="53.8,506.8 63.4,507.1 69.3,498.3 58.0,491.7 50.0,500.3 50.0,500.6"/>
<polygon class="G" points="188.3,633.8 189.4,626.3 188.3,625.0 189.2,622.8 181.5,620.5 175.2,628.5 179.7,635.7"/>
<polygon class="G" points="401.4,343.4 402.6,341.9 398.7,334.4 392.5,334.1 388.9,338.2 391.2,343.1"/>
<polygon class="L" points="427.4,513.2 418.8,512.3 414.3,516.3 419.1,525.4 431.8,525.0 434.2,522.4"/>
<polygon class="B" points="225.2,502.9 224.8,502.5 219.2,501.7 215.2,510.8 225.6,508.8 225.7,508.7"/>
<polygon class="B" points="106.8,378.0 96.4,377.6 96.2,377.9 100.4,389.0 105.0,388.3 108.2,382.4"/>
<polygon class="O" points="418.0,579.0 416.7,573.7 407.8,568.2 401.7,573.0 402.4,577.4 407.5,580.0 412.0,580.8"/>
<polygon class="B" points="296.5,419.2 303.7,417.8 303.8,412.6 297.9,409.6 294.8,411.2"/>
<polygon class="Y" points="338.8,373.2 334.5,378.1 335.4,381.3 343.6,380.9 345.1,374.1"/>
<polygon class="L" points="374.6,391.3 371.8,397.6 376.3,400.9 382.2,395.2 381.6,391.9 378.4,390.4"/>
<polygon class="G" points="263.2,326.2 264.1,315.6 259.0,313.8 251.8,323.4 251.8,323.9 254.8,326.4"/>
<polygon class="B" points="198.5,395.6 199.6,393.2 198.1,387.7 192.2,387.1 189.4,389.9 192.5,397.2"/>
<polygon class="O" points="244.8,411.5 237.3,415.2 237.4,418.9 247.5,422.4 247.5,414.0"/>
<polygon class="L" points="59.7,324.2 65.3,326.5 70.8,323.5 71.4,317.5 66.8,313.7 59.6,322.0"/>
<polygon class="G" points="397.3,318.0 396.0,318.1 390.8,324.2 392.5,334.1 398.7,334.4 403.3,326.4 402.5,324.2"/>
<polygon class="B" points="179.5,411.1 177.1,405.4 175.0,404.7 171.5,407.1 170.6,411.1 175.0,413.5"/>
<polygon class="L" points="504.7,533.9 515.2,537.3 520.6,531.5 517.5,530.0 507.5,532.5 505.4,529.9"/>
<polygon class="B" points="246.9,393.8 244.8,388.5 235.3,388.8 239.4,396.9"/>
<polygon class="O" points="150.0,392.8 147.3,390.7 142.1,395.4 142.1,395.6 148.1,398.7 148.5,398.6"/>
<polygon class="O" points="393.2,430.8 386.6,428.8 382.0,431.1 387.0,441.9 391.5,441.9 394.7,438.4"/>
<polygon class="L" points="234.9,480.4 233.0,467.3 229.5,466.1 221.6,474.5 221.8,477.5"/>
<polygon class="Y" points="238.5,339.0 247.8,344.5 250.4,343.9 252.6,340.0 243.3,330.1 241.2,330.2"/>
<polygon class="B" points="174.6,365.9 175.8,364.1 174.2,356.7 172.6,356.3 165.7,360.3 168.0,365.3"/>
<polygon class="G" points="411.4,356.4 417.7,368.4 428.6,363.9 431.0,357.8 426.4,352.4 419.7,355.0 412.6,358.5 411.8,355.8"/>
<polygon class="B" points="160.3,394.0 158.7,386.6 156.2,387.1 153.2,392.4 156.0,396.4"/>
<polygon class="L" points="183.0,296.9 183.9,303.4 191.4,307.8 198.1,297.1 197.3,295.7 183.5,296.5"/>
<polygon class="Y" points="154.2,551.9 153.7,550.4 149.8,547.1 139.9,551.5 145.5,562.4 148.3,561.7"/>
<polygon class="B" points="175.5,420.2 178.1,420.9 183.4,415.2 182.9,412.2 179.5,411.1 175.0,413.5"/>
<polygon class="L" points="361.3,386.8 363.8,382.3 357.6,376.8 354.1,379.1 353.3,381.5 357.4,387.4"/>
<polygon class="Y" points="190.5,323.4 190.3,323.8 190.8,327.2 197.9,333.3 199.7,333.0 202.5,323.4 198.7,320.4"/>
<polygon class="B" points="163.9,411.1 164.0,405.3 161.0,403.7 156.4,407.6 156.4,409.0 162.1,411.9"/>
<polygon class="G" points="63.6,530.3 62.5,520.6 52.2,518.7 56.7,530.0 60.3,533.6"/>
<polygon class="O" points="148.5,398.6 148.1,398.7 144.8,403.5 148.6,406.4 152.8,403.6 152.8,400.8"/>
<polygon class="L" points="429.4,547.1 436.1,540.2 431.1,534.4 422.2,537.1 422.7,546.0"/>
<polygon class="L" points="201.0,504.8 200.4,508.7 206.1,515.1 214.0,512.6 214.3,511.4 209.8,504.2"/>
<polygon class="L" points="423.3,451.9 423.7,452.8 433.9,458.7 438.7,457.4 436.9,450.2 428.8,447.5 428.7,444.6"/>
<polygon class="O" points="277.4,416.4 281.0,413.9 277.4,407.4 271.4,408.0 271.1,408.4 272.7,415.2"/>
<polygon class="G" points="190.8,327.2 190.3,323.8 179.6,323.2 179.9,333.1 182.4,335.0 183.4,335.0"/>
<polygon class="G" points="182.4,335.0 178.0,345.4 178.7,346.3 188.8,346.8 191.5,341.2 183.4,335.0"/>
<polygon class="Y" points="311.4,365.3 318.2,360.2 317.6,358.3 307.4,354.6 307.1,354.8 306.4,358.1"/>
<polygon class="L" points="92.5,317.1 97.9,311.4 90.8,304.4 81.9,311.5"/>
<polygon class="B" points="108.0,397.3 102.0,399.7 102.7,404.1 108.5,406.0 112.3,401.8"/>
<polygon class="G" points="332.2,156.4 336.1,162.9 354.1,153.8 352.6,145.8 341.7,141.2 336.6,142.7"/>
<polygon class="O" points="296.9,361.7 294.4,359.2 291.1,359.5 287.9,366.3 292.8,369.6 295.1,368.6"/>
<polygon class="G" points="177.0,312.7 177.2,309.8 172.0,304.4 164.3,306.2 165.4,315.0"/>
<polygon class="B" points="169.1,389.9 178.0,388.8 176.3,382.2 169.9,381.6 168.4,388.9 168.8,389.7"/>
<polygon class="B" points="258.4,526.4 261.7,528.8 265.1,527.1 265.5,525.4 261.5,520.1 258.3,522.2"/>
<polygon class="Y" points="355.8,418.6 355.7,421.8 365.9,422.8 365.7,416.2 360.4,413.0"/>
<polygon class="B" points="176.3,462.0 168.5,462.4 171.7,473.4 176.6,470.7 177.1,462.7"/>
<polygon class="G" points="380.2,365.3 382.5,372.0 383.0,372.3 390.8,368.8 387.5,363.8 380.9,364.0"/>
<polygon class="G" points="212.4,314.9 213.2,307.3 204.4,303.7 201.2,311.7 210.9,315.8"/>
<polygon class="B" points="146.2,368.4 143.6,360.1 141.3,359.6 139.2,361.6 138.6,369.0 141.5,370.7"/>
<polygon class="L" points="88.5,538.7 88.4,537.9 76.9,529.7 74.9,531.1 72.5,542.3 80.7,545.6"/>
<polygon class="B" points="116.7,384.2 115.5,391.6 116.2,392.3 122.7,393.7 125.5,390.5 124.6,386.8 116.7,384.1"/>
<polygon class="B" points="168.9,436.7 174.0,439.9 176.5,438.2 176.8,431.0 172.1,429.5 169.1,431.6"/>
<polygon class="B" points="354.2,423.5 355.7,421.8 355.8,418.6 349.5,411.7 345.6,415.9 346.2,421.6"/>
<polygon class="B" points="156.5,376.8 150.6,377.9 150.5,378.4 153.8,385.9 156.2,387.1 158.7,386.6 159.2,386.2"/>
<polygon class="G" points="366.2,364.8 368.6,373.0 369.5,373.6 371.9,373.1 375.1,366.2 369.6,360.3"/>
<polygon class="B" points="181.6,471.3 182.6,477.1 189.0,477.6 189.4,477.3 189.6,473.5 184.4,469.3"/>
<polygon class="B" points="235.0,347.4 234.8,341.0 227.9,338.0 222.9,342.0 228.5,352.4"/>
<polygon class="G" points="390.4,357.4 392.9,353.0 389.6,347.0 382.6,349.0 383.3,355.6 390.0,357.5"/>
<polygon class="L" points="366.6,288.0 358.7,291.6 356.7,304.2 368.5,305.0 373.9,299.3"/>
<polygon class="O" points="339.8,392.6 340.1,391.5 334.6,383.6 329.0,386.2 330.4,393.5"/>
<polygon class="L" points="88.9,464.5 94.6,465.4 97.3,460.7 88.2,462.9"/>
<polygon class="G" points="154.6,602.6 151.5,602.2 147.8,605.1 156.8,606.3"/>
<polygon class="O" points="210.9,404.1 209.2,401.5 201.9,400.9 198.2,407.7 207.0,411.5 210.7,407.7"/>
<polygon class="Y" points="269.4,417.5 272.7,415.2 271.1,408.4 266.4,409.4 263.7,415.0"/>
<polygon class="G" points="305.2,301.8 314.5,306.8 318.8,298.3 317.0,293.0 304.9,300.2"/>
<polygon class="Y" points="78.8,329.2 82.2,325.5 79.8,314.8 71.4,317.5 70.8,323.5"/>
<polygon class="O" points="216.7,365.0 220.1,371.3 226.7,371.8 229.8,365.3 226.8,361.2"/>
<polygon class="L" points="469.4,499.1 474.7,498.2 473.8,497.5 467.0,491.7"/>
<polygon class="O" points="291.7,373.8 292.8,369.6 287.9,366.3 282.9,367.4 281.6,368.7 287.2,375.7"/>
<polygon class="B" points="154.5,444.7 151.8,442.0 143.6,442.1 142.0,443.2 146.2,451.5 151.6,451.5 154.5,444.7"/>
<polygon class="O" points="291.1,359.5 294.4,359.2 297.4,351.4 296.0,348.6 288.2,349.3 285.4,355.5"/>
<polygon class="L" points="420.6,477.4 417.5,480.9 417.9,488.6 427.4,490.7 433.4,484.2 432.9,482.3"/>
<polygon class="Y" points="207.6,430.3 206.3,425.9 199.2,422.6 195.0,427.0 198.1,434.5 207.5,430.5"/>
<polygon class="G" points="337.6,304.9 329.7,299.5 325.1,301.7 325.0,309.5 326.8,311.1 334.2,311.2"/>
<polygon class="O" points="78.6,353.4 75.7,351.6 68.0,358.4 69.6,362.6 77.8,364.7 78.3,364.2"/>
<polygon class="L" points="44.2,480.8 43.3,483.3 44.9,486.6 46.5,480.9 46.4,480.8"/>
<polygon class="Y" points="452.8,569.7 457.2,560.4 444.0,558.6 442.3,569.4 446.0,570.9"/>
<polygon class="Y" points="392.7,518.3 391.0,505.5 380.3,507.8 379.4,518.3"/>
<polygon class="B" points="134.2,352.8 139.1,354.7 144.5,347.8 140.2,345.3 135.3,346.8 135.2,346.8"/>
<polygon class="B" points="253.4,517.1 248.0,517.7 246.3,522.1 247.1,524.0 250.5,525.1 254.7,521.0"/>
<polygon class="L" points="262.6,483.2 270.0,478.0 270.1,470.3 260.3,469.6 256.5,473.6 256.4,476.7"/>
<polygon class="Y" points="225.3,412.4 236.3,413.9 236.1,407.9 232.3,405.7 224.6,409.3 224.1,411.5"/>
<polygon class="O" points="288.8,247.4 279.7,241.5 270.8,255.0 273.7,258.3 279.5,259.8 289.2,256.2"/>
<polygon class="O" points="271.1,408.4 271.4,408.0 270.4,401.7 267.5,400.0 261.3,404.2 266.4,409.4"/>
<polygon class="B" points="156.4,409.0 156.4,407.6 152.8,403.6 148.6,406.4 148.2,410.6 148.6,411.0 155.0,410.6"/>
<polygon class="G" points="154.8,574.4 145.0,576.4 148.3,587.8 156.6,587.7 159.6,579.5"/>
<polygon class="O" points="455.1,510.0 450.2,512.0 450.3,523.0 458.8,523.9 462.0,516.7"/>
<polygon class="G" points="310.0,262.2 311.4,258.4 306.3,253.6 292.7,258.8 293.7,263.9 301.1,268.5"/>
<polygon class="B" points="324.9,425.5 329.8,418.6 322.4,413.4 318.5,420.4 322.1,425.4"/>
<polygon class="B" points="160.5,401.3 163.5,397.9 162.6,395.0 160.3,394.0 156.0,396.4 155.5,398.8"/>
<polygon class="Y" points="466.5,541.9 470.9,544.2 477.9,540.4 477.6,534.5 468.5,529.7 464.7,531.3"/>
<polygon class="O" points="160.0,555.5 169.0,551.1 164.8,541.9 153.7,550.4 154.2,551.9"/>
<polygon class="O" points="144.8,403.5 148.1,398.7 142.1,395.6 140.4,398.0 142.8,403.8"/>
<polygon class="G" points="346.3,336.1 338.7,336.9 337.5,340.7 342.6,347.7 344.3,347.9 349.2,342.5"/>
<polygon class="O" points="382.5,372.0 375.7,374.7 378.0,381.4 383.6,380.7 385.0,377.6 383.0,372.3"/>
<polygon class="G" points="228.0,307.5 231.0,296.7 230.1,295.6 217.5,300.8 217.2,303.8 223.9,308.8"/>
<polygon class="B" points="160.0,434.6 161.7,438.5 163.8,439.3 168.9,436.7 169.1,431.6 162.5,429.2"/>
<polygon class="B" points="195.5,445.5 189.8,448.8 189.0,454.3 192.8,457.4 194.0,457.3 202.0,451.0 202.0,451.0"/>
<polygon class="G" points="165.4,315.0 164.3,306.2 163.2,305.3 156.1,306.9 154.5,315.3 165.3,315.1"/>
<polygon class="B" points="147.7,387.2 146.7,383.0 141.6,382.1 140.9,387.6 146.9,388.6"/>
<polygon class="O" points="185.0,380.7 183.1,389.3 189.4,389.9 192.2,387.1 189.9,379.6 188.2,379.0"/>
<polygon class="O" points="256.1,361.3 261.6,365.1 267.2,362.1 265.9,353.4"/>
<polygon class="L" points="225.1,518.2 216.2,516.6 214.9,523.0 219.4,528.1 226.1,522.6"/>
<polygon class="O" points="133.2,529.9 126.7,525.8 126.0,526.0 120.0,534.2 127.5,539.8"/>
<polygon class="G" points="112.1,320.8 112.6,323.9 119.5,328.6 119.3,328.1 115.8,321.1 115.1,320.0"/>
<polygon class="B" points="143.5,483.4 141.3,495.0 150.0,495.4 152.0,491.5 147.4,482.8"/>
<polygon class="Y" points="292.9,390.7 296.7,382.9 295.8,381.1 285.5,382.1 285.2,382.4 292.2,391.0"/>
<polygon class="G" points="387.5,363.8 390.0,357.5 383.3,355.6 380.1,358.5 380.9,364.0"/>
<polygon class="O" points="154.3,456.1 147.1,464.9 147.3,466.0 158.9,468.6 161.1,464.4 156.7,456.7"/>
<polygon class="Y" points="166.8,348.1 166.8,347.7 158.1,345.5 153.7,351.8 154.5,352.7 162.2,354.1"/>
<polygon class="G" points="285.2,218.8 294.7,215.2 296.8,206.2 283.3,210.0 278.5,210.5"/>
<polygon class="L" points="401.6,557.0 400.4,551.9 385.5,555.2 385.2,559.9 392.5,567.9"/>
<polygon class="L" points="314.0,381.9 320.6,377.4 314.8,371.3 314.4,371.2 308.8,379.5"/>
<polygon class="G" points="244.2,305.9 249.2,300.1 247.8,293.7 246.4,293.1 235.7,298.4 239.8,305.5"/>
<polygon class="G" points="281.7,452.1 280.6,451.5 267.0,456.9 272.5,467.8 278.1,467.4 282.2,453.3"/>
<polygon class="O" points="234.8,530.0 240.7,520.3 239.5,517.9 234.4,518.1 232.0,525.9"/>
<polygon class="Y" points="313.1,389.9 316.7,395.8 321.9,393.0 321.9,387.3 315.5,386.7"/>
<polygon class="Y" points="297.6,459.9 301.2,467.8 311.9,467.1 310.7,455.2"/>
<polygon class="L" points="443.4,510.1 445.0,495.9 443.0,494.5 431.5,501.2 432.6,505.4 442.5,510.5"/>
<polygon class="O" points="120.4,356.1 122.7,358.3 129.3,358.4 132.1,353.4 124.6,347.5"/>
<polygon class="Y" points="261.5,520.1 265.5,525.4 274.8,519.5 274.3,518.1 264.1,514.5 263.1,515.6"/>
<polygon points="125.5,306 128.5,305.5 129,311 126,312" class="G"/>
<polygon points="407,423.5 427,422.5 427.5,426.5 408,427" style="fill:#fff;stroke:#5c7a70;stroke-width:0.5"/>
</svg>

<!-- map legend -->
<div class="abs" style="left:80px;top:651px;font-size:13.5px;color:#666;line-height:16px;">Densità di emissione in: t /km2</div>
<div class="abs" style="left:437px;top:648px;font-size:9.5px;color:#444;line-height:12px;">Max</div>
<div class="abs" style="left:81px;top:668px;width:380px;height:20px;">
  <div class="abs" style="left:0;top:0;width:78px;height:20px;background:#6c9f87;"></div>
  <div class="abs" style="left:78px;top:0;width:73px;height:20px;background:#bde5d3;"></div>
  <div class="abs" style="left:151px;top:0;width:74px;height:20px;background:#f3dc8f;"></div>
  <div class="abs" style="left:225px;top:0;width:73px;height:20px;background:#b97a4b;"></div>
  <div class="abs" style="left:298px;top:0;width:82px;height:20px;background:#7b5435;"></div>
  <div class="abs" style="left:0;top:2px;width:74px;text-align:right;font-size:13px;color:#222;line-height:16px;">0,04</div>
  <div class="abs" style="left:78px;top:2px;width:69px;text-align:right;font-size:13px;color:#222;line-height:16px;">0,07</div>
  <div class="abs" style="left:151px;top:2px;width:69px;text-align:right;font-size:13px;color:#222;line-height:16px;">0,10</div>
  <div class="abs" style="left:225px;top:2px;width:69px;text-align:right;font-size:13px;color:#222;line-height:16px;">0,16</div>
  <div class="abs" style="left:298px;top:2px;width:78px;text-align:right;font-size:13px;color:#222;line-height:16px;">1,27</div>
</div>

<!-- BAR CHART -->
<div class="bar" style="left:598px;top:605.55px;height:11.45px;background:#6ab85a"></div>
<div class="bar" style="left:598px;top:136.42px;height:469.13px;background:#ebc545"></div>
<div class="bar" style="left:598px;top:44.70px;height:91.72px;background:#cbcbcb"></div>
<div class="tot" style="left:586px;top:25.1px">36,50%</div>
<div class="inl" style="left:598px;top:365px">29,92%</div>
<div class="inl" style="left:598px;top:84px">5,85%</div>
<div class="xl" style="left:588px">07 -<br>Trasporto<br>su strada</div>
<div class="bar" style="left:657px;top:613.86px;height:3.14px;background:#5fa9e3"></div>
<div class="bar" style="left:657px;top:102.87px;height:510.99px;background:#774f30"></div>
<div class="bar" style="left:657px;top:100.36px;height:2.51px;background:#8fdcb8"></div>
<div class="tot" style="left:645px;top:80.8px">32,95%</div>
<div class="inl" style="left:657px;top:352px">32,59%</div>
<div class="xl" style="left:647px">02 -<br>Combus...<br>non<br>industriale</div>
<div class="bar" style="left:717px;top:364.87px;height:252.13px;background:#ebc545"></div>
<div class="bar" style="left:717px;top:363.15px;height:1.72px;background:#f2a062"></div>
<div class="tot" style="left:705px;top:343.5px">16,19%</div>
<div class="inl" style="left:717px;top:485px">16,08%</div>
<div class="xl" style="left:707px">08 - Altre<br>sorgenti<br>mobili e<br>macchin...</div>
<div class="bar" style="left:776px;top:610.57px;height:6.43px;background:#5fa9e3"></div>
<div class="bar" style="left:776px;top:488.74px;height:121.83px;background:#774f30"></div>
<div class="bar" style="left:776px;top:484.04px;height:4.70px;background:#8fdcb8"></div>
<div class="bar" style="left:776px;top:475.57px;height:8.47px;background:#000000"></div>
<div class="bar" style="left:776px;top:471.97px;height:3.61px;background:#cbcbcb"></div>
<div class="tot" style="left:764px;top:452.4px">9,29%</div>
<div class="inl" style="left:776px;top:543px">7,77%</div>
<div class="xl" style="left:766px">03 -<br>Combus...<br>nell'indu...</div>
<div class="bar" style="left:836px;top:572.94px;height:44.06px;background:#cbcbcb"></div>
<div class="tot" style="left:824px;top:553.3px">2,81%</div>
<div class="inl" style="left:836px;top:589px">2,81%</div>
<div class="xl" style="left:826px">11 - Altre<br>sorgenti e<br>assorbi...</div>
<div class="bar" style="left:895.6px;top:601.79px;height:15.21px;background:#cbcbcb"></div>
<div class="tot" style="left:883.6px;top:582.2px">0,97%</div>
<div class="inl" style="left:895.6px;top:603px">0,97%</div>
<div class="xl" style="left:885.6px">10 -<br>Agricolt...</div>
<div class="bar" style="left:955px;top:609.16px;height:7.84px;background:#d8463c"></div>
<div class="bar" style="left:955px;top:604.77px;height:4.39px;background:#774f30"></div>
<div class="bar" style="left:955px;top:604.14px;height:0.63px;background:#6ab85a"></div>
<div class="tot" style="left:943px;top:584.5px">0,82%</div>
<div class="xl" style="left:945px">01 -<br>Produzio...<br>energia e<br>trasform...<br>combust...</div>
<div class="bar" style="left:1015px;top:612.45px;height:4.55px;background:#2f5a2c"></div>
<div class="bar" style="left:1015px;top:609.94px;height:2.51px;background:#cbcbcb"></div>
<div class="tot" style="left:1003px;top:590.3px">0,45%</div>
<div class="xl" style="left:1005px">09 -<br>Trattame...<br>e<br>smaltim...<br>rifiuti</div>
<div class="bar" style="left:1074.5px;top:616.06px;height:0.94px;background:#cbcbcb"></div>
<div class="tot" style="left:1062.5px;top:596.5px">0,03%</div>
<div class="xl" style="left:1064.5px">04 -<br>Processi<br>produttivi</div>

<!-- PIE -->
<svg class="abs" style="left:880px;top:60px" width="220" height="220" viewBox="880 60 220 220" id="pie">
<path d="M986.8,170.3 L986.80,86.30 A84,84 0 0 1 988.54,86.32 Z" fill="#2f5a2c"/>
<path d="M986.8,170.3 L988.54,86.32 A84,84 0 0 1 992.60,86.50 Z" fill="#6ab85a"/>
<path d="M986.8,170.3 L992.60,86.50 A84,84 0 0 1 1002.02,252.91 Z" fill="#ebc545"/>
<path d="M986.8,170.3 L1002.02,252.91 A84,84 0 0 1 999.78,253.29 Z" fill="#d8463c"/>
<path d="M986.8,170.3 L999.78,253.29 A84,84 0 0 1 995.60,253.84 Z" fill="#5fa9e3"/>
<path d="M986.8,170.3 L995.60,253.84 A84,84 0 0 1 933.13,105.68 Z" fill="#774f30"/>
<path d="M986.8,170.3 L933.13,105.68 A84,84 0 0 1 935.36,103.89 Z" fill="#8fdcb8"/>
<path d="M986.8,170.3 L935.36,103.89 A84,84 0 0 1 937.26,102.47 Z" fill="#000000"/>
<path d="M986.8,170.3 L937.26,102.47 A84,84 0 0 1 986.80,86.30 Z" fill="#cbcbcb"/>
<polyline points="987.5,84 987.5,75.7 999,75.7" fill="none" stroke="#9a9a9a" stroke-width="1.1"/>
<polyline points="932.5,104 926.5,97 913,97" fill="none" stroke="#9a9a9a" stroke-width="1.1"/>
<polyline points="1072,165 1090,165" fill="none" stroke="#9a9a9a" stroke-width="1.1"/>
<polyline points="943.2,245.2 938.5,252.5 927,252.5" fill="none" stroke="#9a9a9a" stroke-width="1.1"/>
<polyline points="1000.8,255.5 1002.8,263.7 1014.5,263.7" fill="none" stroke="#9a9a9a" stroke-width="1.1"/>
</svg>

<!-- legend -->
<div class="abs" style="left:1154.5px;top:220px;font-size:10.5px;font-weight:bold;color:#555;line-height:14px;">Combustibile</div>
<div class="lg" style="top:237.9px"><i style="background:#2f5a2c"></i><span>Altro</span></div>
<div class="lg" style="top:260.2px"><i style="background:#6ab85a"></i><span>Benzina</span></div>
<div class="lg" style="top:282.6px"><i style="background:#3e4f8c"></i><span>Carbone</span></div>
<div class="lg" style="top:305.0px"><i style="background:#ebc545"></i><span>Diesel</span></div>
<div class="lg" style="top:327.3px"><i style="background:#d8463c"></i><span>Gas di raffineria</span></div>
<div class="lg" style="top:349.6px"><i style="background:#5fa9e3"></i><span>Gasolio</span></div>
<div class="lg" style="top:372.0px"><i style="background:#8a68d5"></i><span>GPL</span></div>
<div class="lg" style="top:394.4px"><i style="background:#f2a062"></i><span>Kerosene</span></div>
<div class="lg" style="top:416.7px"><i style="background:#774f30"></i><span>Legna e similari</span></div>
<div class="lg" style="top:439.1px"><i style="background:#8fdcb8"></i><span>Metano</span></div>
<div class="lg" style="top:461.4px"><i style="background:#000000"></i><span>Olio combustibile</span></div>
<div class="lg" style="top:483.8px"><i style="background:#cbcbcb"></i><span>Senza combustibile</span></div>
<div class="pl" style="left:1003.5px;top:69px">Altro 0,33%</div>
<div class="pl" style="left:811px;top:83px;width:100px;text-align:right">Metano<br>0,54%</div>
<div class="pl" style="left:1097px;top:151px">Diesel<br>46%</div>
<div class="pl" style="left:783px;top:239px;width:140px;text-align:right">Legna e simil...<br>40,64%</div>
<div class="pl" style="left:1019px;top:249px">Gas di raffineria<br>0,43%</div>
</body></html>
